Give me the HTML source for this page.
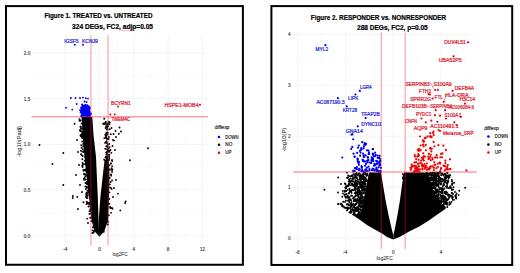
<!DOCTYPE html><html><head><meta charset="utf-8"><style>html,body{margin:0;padding:0;background:#fff;width:520px;height:273px;overflow:hidden}svg{display:block}text{font-family:"Liberation Sans", sans-serif}</style></head><body><svg width="520" height="273" viewBox="0 0 520 273"><rect x="0" y="0" width="520" height="273" fill="#fff"/><line x1="48.02" y1="35.3" x2="48.02" y2="245.6" stroke="#f8f8f8" stroke-width="0.6"/><line x1="82.34" y1="35.3" x2="82.34" y2="245.6" stroke="#f8f8f8" stroke-width="0.6"/><line x1="116.66" y1="35.3" x2="116.66" y2="245.6" stroke="#f8f8f8" stroke-width="0.6"/><line x1="150.98" y1="35.3" x2="150.98" y2="245.6" stroke="#f8f8f8" stroke-width="0.6"/><line x1="185.3" y1="35.3" x2="185.3" y2="245.6" stroke="#f8f8f8" stroke-width="0.6"/><line x1="32.1" y1="212.84" x2="207.9" y2="212.84" stroke="#f8f8f8" stroke-width="0.6"/><line x1="32.1" y1="167.11" x2="207.9" y2="167.11" stroke="#f8f8f8" stroke-width="0.6"/><line x1="32.1" y1="121.39" x2="207.9" y2="121.39" stroke="#f8f8f8" stroke-width="0.6"/><line x1="32.1" y1="75.66" x2="207.9" y2="75.66" stroke="#f8f8f8" stroke-width="0.6"/><line x1="65.18" y1="35.3" x2="65.18" y2="245.6" stroke="#f1f1f1" stroke-width="0.8"/><line x1="99.5" y1="35.3" x2="99.5" y2="245.6" stroke="#f1f1f1" stroke-width="0.8"/><line x1="133.82" y1="35.3" x2="133.82" y2="245.6" stroke="#f1f1f1" stroke-width="0.8"/><line x1="168.14" y1="35.3" x2="168.14" y2="245.6" stroke="#f1f1f1" stroke-width="0.8"/><line x1="202.46" y1="35.3" x2="202.46" y2="245.6" stroke="#f1f1f1" stroke-width="0.8"/><line x1="32.1" y1="235.7" x2="207.9" y2="235.7" stroke="#f1f1f1" stroke-width="0.8"/><line x1="32.1" y1="189.97" x2="207.9" y2="189.97" stroke="#f1f1f1" stroke-width="0.8"/><line x1="32.1" y1="144.25" x2="207.9" y2="144.25" stroke="#f1f1f1" stroke-width="0.8"/><line x1="32.1" y1="98.52" x2="207.9" y2="98.52" stroke="#f1f1f1" stroke-width="0.8"/><line x1="32.1" y1="52.8" x2="207.9" y2="52.8" stroke="#f1f1f1" stroke-width="0.8"/><line x1="321.5" y1="32.5" x2="321.5" y2="248.9" stroke="#f8f8f8" stroke-width="0.6"/><line x1="369.3" y1="32.5" x2="369.3" y2="248.9" stroke="#f8f8f8" stroke-width="0.6"/><line x1="417.1" y1="32.5" x2="417.1" y2="248.9" stroke="#f8f8f8" stroke-width="0.6"/><line x1="464.9" y1="32.5" x2="464.9" y2="248.9" stroke="#f8f8f8" stroke-width="0.6"/><line x1="294" y1="212.78" x2="478.7" y2="212.78" stroke="#f8f8f8" stroke-width="0.6"/><line x1="294" y1="161.73" x2="478.7" y2="161.73" stroke="#f8f8f8" stroke-width="0.6"/><line x1="294" y1="110.68" x2="478.7" y2="110.68" stroke="#f8f8f8" stroke-width="0.6"/><line x1="294" y1="59.63" x2="478.7" y2="59.63" stroke="#f8f8f8" stroke-width="0.6"/><line x1="297.6" y1="32.5" x2="297.6" y2="248.9" stroke="#f1f1f1" stroke-width="0.8"/><line x1="345.4" y1="32.5" x2="345.4" y2="248.9" stroke="#f1f1f1" stroke-width="0.8"/><line x1="393.2" y1="32.5" x2="393.2" y2="248.9" stroke="#f1f1f1" stroke-width="0.8"/><line x1="441" y1="32.5" x2="441" y2="248.9" stroke="#f1f1f1" stroke-width="0.8"/><line x1="294" y1="238.3" x2="478.7" y2="238.3" stroke="#f1f1f1" stroke-width="0.8"/><line x1="294" y1="187.25" x2="478.7" y2="187.25" stroke="#f1f1f1" stroke-width="0.8"/><line x1="294" y1="136.2" x2="478.7" y2="136.2" stroke="#f1f1f1" stroke-width="0.8"/><line x1="294" y1="85.15" x2="478.7" y2="85.15" stroke="#f1f1f1" stroke-width="0.8"/><line x1="294" y1="34.1" x2="478.7" y2="34.1" stroke="#f1f1f1" stroke-width="0.8"/><polygon fill="#000" points="81.8,117 92.3,117 93.5,135 96,157 97.8,197 98.6,222.4 99.3,236.8 94.8,231.5 92,222 90,205 87,180 84.5,157 82.5,135"/><polygon fill="#000" points="104.6,160 108.8,160 109.5,175 109,197 108.2,220 104.2,231.5 99.3,236.8 98.6,222.4 100.4,197 103.2,172"/><g fill="#000"><circle cx="83.24" cy="146.23" r="0.95"/><circle cx="85.23" cy="169.98" r="0.95"/><circle cx="82.01" cy="133.82" r="0.95"/><circle cx="79.62" cy="120.75" r="0.95"/><circle cx="87.96" cy="194.89" r="0.95"/><circle cx="86.58" cy="170.32" r="0.95"/><circle cx="84.06" cy="179.81" r="0.95"/><circle cx="84.43" cy="150.92" r="0.95"/><circle cx="87.47" cy="183.99" r="0.95"/><circle cx="82.35" cy="159.26" r="0.95"/><circle cx="85.55" cy="174.5" r="0.95"/><circle cx="86.27" cy="197.35" r="0.95"/><circle cx="81.78" cy="155.13" r="0.95"/><circle cx="86.22" cy="171.72" r="0.95"/><circle cx="88.47" cy="192.29" r="0.95"/><circle cx="85.71" cy="179.44" r="0.95"/><circle cx="85.52" cy="182.95" r="0.95"/><circle cx="81.57" cy="123.5" r="0.95"/><circle cx="89.7" cy="202.6" r="0.95"/><circle cx="90.23" cy="209.16" r="0.95"/><circle cx="79.42" cy="119.12" r="0.95"/><circle cx="82.48" cy="136.69" r="0.95"/><circle cx="90.22" cy="217.81" r="0.95"/><circle cx="83.45" cy="128.84" r="0.95"/><circle cx="87.03" cy="184.07" r="0.95"/><circle cx="87.85" cy="203.51" r="0.95"/><circle cx="91.14" cy="210.76" r="0.95"/><circle cx="82.54" cy="164.93" r="0.95"/><circle cx="84.2" cy="173.65" r="0.95"/><circle cx="82.46" cy="151.63" r="0.95"/><circle cx="80.84" cy="130.99" r="0.95"/><circle cx="82.77" cy="149.17" r="0.95"/><circle cx="89.87" cy="203.71" r="0.95"/><circle cx="86.26" cy="196.53" r="0.95"/><circle cx="89.48" cy="211.14" r="0.95"/><circle cx="88.02" cy="192.7" r="0.95"/><circle cx="89.63" cy="196.56" r="0.95"/><circle cx="85.23" cy="156.71" r="0.95"/><circle cx="86.67" cy="192.77" r="0.95"/><circle cx="90.63" cy="213.54" r="0.95"/><circle cx="88.98" cy="203.66" r="0.95"/><circle cx="80.73" cy="126.64" r="0.95"/><circle cx="80.63" cy="135.56" r="0.95"/><circle cx="80.75" cy="120.47" r="0.95"/><circle cx="80.72" cy="135.51" r="0.95"/><circle cx="86.23" cy="183" r="0.95"/><circle cx="80.91" cy="128.89" r="0.95"/><circle cx="86.09" cy="169.23" r="0.95"/><circle cx="82.31" cy="165.83" r="0.95"/><circle cx="89.65" cy="204.04" r="0.95"/><circle cx="88.91" cy="206.22" r="0.95"/><circle cx="85.07" cy="160.58" r="0.95"/><circle cx="86.72" cy="197.76" r="0.95"/><circle cx="86.33" cy="193.74" r="0.95"/><circle cx="86.88" cy="175.6" r="0.95"/><circle cx="82.11" cy="137.53" r="0.95"/><circle cx="86.75" cy="201.74" r="0.95"/><circle cx="87.69" cy="202.99" r="0.95"/><circle cx="86.81" cy="186.8" r="0.95"/><circle cx="81.57" cy="147.73" r="0.95"/><circle cx="83.94" cy="163.97" r="0.95"/><circle cx="85.91" cy="188.98" r="0.95"/><circle cx="84.23" cy="174.32" r="0.95"/><circle cx="89.26" cy="202.83" r="0.95"/><circle cx="82.61" cy="167.04" r="0.95"/><circle cx="83.28" cy="143.91" r="0.95"/><circle cx="80.92" cy="150.75" r="0.95"/><circle cx="88.19" cy="182.2" r="0.95"/><circle cx="82.6" cy="162.95" r="0.95"/><circle cx="80.93" cy="135.24" r="0.95"/><circle cx="81.57" cy="134.33" r="0.95"/><circle cx="81.28" cy="145.31" r="0.95"/><circle cx="84.69" cy="160.85" r="0.95"/><circle cx="87.4" cy="198.08" r="0.95"/><circle cx="91.81" cy="220.93" r="0.95"/><circle cx="88.32" cy="188.23" r="0.95"/><circle cx="83.7" cy="170.85" r="0.95"/><circle cx="89.14" cy="189.86" r="0.95"/><circle cx="80.85" cy="136.35" r="0.95"/><circle cx="88.53" cy="206.62" r="0.95"/><circle cx="82.44" cy="131.96" r="0.95"/><circle cx="89.15" cy="190.33" r="0.95"/><circle cx="83.28" cy="125.09" r="0.95"/><circle cx="82.8" cy="135.16" r="0.95"/><circle cx="89.34" cy="213.87" r="0.95"/><circle cx="80.05" cy="130.11" r="0.95"/><circle cx="91.11" cy="208.04" r="0.95"/><circle cx="85.57" cy="164.58" r="0.95"/><circle cx="87" cy="195.99" r="0.95"/><circle cx="87.67" cy="202.78" r="0.95"/><circle cx="86.63" cy="194.04" r="0.95"/><circle cx="82.78" cy="156.09" r="0.95"/><circle cx="82.49" cy="135.24" r="0.95"/><circle cx="83.65" cy="137.21" r="0.95"/><circle cx="86.34" cy="195.28" r="0.95"/><circle cx="80.98" cy="154.13" r="0.95"/><circle cx="85.38" cy="186.48" r="0.95"/><circle cx="81.32" cy="131.61" r="0.95"/><circle cx="83.99" cy="178.62" r="0.95"/><circle cx="80.44" cy="126.73" r="0.95"/><circle cx="85.42" cy="176.22" r="0.95"/><circle cx="91.48" cy="221.16" r="0.95"/><circle cx="85.6" cy="164.06" r="0.95"/><circle cx="86.9" cy="187.55" r="0.95"/><circle cx="82.22" cy="141.55" r="0.95"/><circle cx="84.24" cy="150.93" r="0.95"/><circle cx="81.61" cy="128.17" r="0.95"/><circle cx="84.66" cy="177.69" r="0.95"/><circle cx="82.55" cy="138.03" r="0.95"/><circle cx="87.42" cy="190.75" r="0.95"/><circle cx="83.7" cy="151.96" r="0.95"/><circle cx="86.66" cy="181.88" r="0.95"/><circle cx="79.94" cy="130.55" r="0.95"/><circle cx="83.36" cy="170.04" r="0.95"/><circle cx="91.16" cy="211.15" r="0.95"/><circle cx="86.16" cy="169.93" r="0.95"/><circle cx="92.32" cy="216.62" r="0.95"/><circle cx="82.54" cy="118.93" r="0.95"/><circle cx="84.34" cy="169.89" r="0.95"/><circle cx="91.69" cy="217.81" r="0.95"/><circle cx="110.09" cy="207" r="0.95"/><circle cx="109.3" cy="203.78" r="0.95"/><circle cx="109.29" cy="199.04" r="0.95"/><circle cx="109.5" cy="192.35" r="0.95"/><circle cx="112.17" cy="161.1" r="0.95"/><circle cx="111.63" cy="188.89" r="0.95"/><circle cx="109.71" cy="177.97" r="0.95"/><circle cx="108.31" cy="172.73" r="0.95"/><circle cx="110.8" cy="163.56" r="0.95"/><circle cx="111.01" cy="212.85" r="0.95"/><circle cx="112.41" cy="208.69" r="0.95"/><circle cx="111.63" cy="168.14" r="0.95"/><circle cx="112.37" cy="169.56" r="0.95"/><circle cx="111.91" cy="208.04" r="0.95"/><circle cx="110.8" cy="187.71" r="0.95"/><circle cx="108.9" cy="187.61" r="0.95"/><circle cx="109.31" cy="165.18" r="0.95"/><circle cx="108.58" cy="203.67" r="0.95"/><circle cx="112.15" cy="166.09" r="0.95"/><circle cx="108.06" cy="173.03" r="0.95"/><circle cx="108.6" cy="168.75" r="0.95"/><circle cx="110.62" cy="182.07" r="0.95"/><circle cx="109.93" cy="169.72" r="0.95"/><circle cx="110.99" cy="174.5" r="0.95"/><circle cx="109.8" cy="184.41" r="0.95"/><circle cx="112.07" cy="172.04" r="0.95"/><circle cx="111.23" cy="175.63" r="0.95"/><circle cx="112.02" cy="180.46" r="0.95"/><circle cx="110.27" cy="208" r="0.95"/><circle cx="111.03" cy="163.38" r="0.95"/><circle cx="103.82" cy="231.84" r="0.95"/><circle cx="103.17" cy="220.11" r="0.95"/><circle cx="108.75" cy="215.26" r="0.95"/><circle cx="103.97" cy="218.63" r="0.95"/><circle cx="103.52" cy="223.02" r="0.95"/><circle cx="106.55" cy="220.41" r="0.95"/><circle cx="103.65" cy="228.79" r="0.95"/><circle cx="107.83" cy="224.56" r="0.95"/><circle cx="103.83" cy="224.21" r="0.95"/><circle cx="106.78" cy="222.28" r="0.95"/><circle cx="108.18" cy="221.63" r="0.95"/><circle cx="106.07" cy="216.94" r="0.95"/><circle cx="93.82" cy="231.2" r="0.95"/><circle cx="94.66" cy="225.08" r="0.95"/><circle cx="95.96" cy="230.64" r="0.95"/><circle cx="93.12" cy="226.98" r="0.95"/><circle cx="94.9" cy="224.11" r="0.95"/><circle cx="94.2" cy="230.63" r="0.95"/><circle cx="93.58" cy="232.48" r="0.95"/><circle cx="93.34" cy="227.58" r="0.95"/><circle cx="92.42" cy="233.03" r="0.95"/><circle cx="92.58" cy="230.34" r="0.95"/><circle cx="108.51" cy="139.04" r="0.95"/><circle cx="107.19" cy="159.2" r="0.95"/><circle cx="105.47" cy="160.81" r="0.95"/><circle cx="103.4" cy="123.35" r="0.95"/><circle cx="105.76" cy="121.88" r="0.95"/><circle cx="109.71" cy="129.17" r="0.95"/><circle cx="105.34" cy="134.62" r="0.95"/><circle cx="109.36" cy="154.77" r="0.95"/><circle cx="105.66" cy="135.66" r="0.95"/><circle cx="104.22" cy="118.71" r="0.95"/><circle cx="104.15" cy="159.64" r="0.95"/><circle cx="107.27" cy="156.46" r="0.95"/><circle cx="107.3" cy="134.14" r="0.95"/><circle cx="106.72" cy="133.94" r="0.95"/><circle cx="103.55" cy="123.86" r="0.95"/><circle cx="106.48" cy="152.16" r="0.95"/><circle cx="107.19" cy="127.3" r="0.95"/><circle cx="106.09" cy="134.28" r="0.95"/><circle cx="108.07" cy="151.93" r="0.95"/><circle cx="109.78" cy="122.47" r="0.95"/><circle cx="105.59" cy="160.44" r="0.95"/><circle cx="111.34" cy="152.87" r="0.95"/><circle cx="105.9" cy="156.59" r="0.95"/><circle cx="107.38" cy="157.11" r="0.95"/><circle cx="107.35" cy="156.44" r="0.95"/><circle cx="108.64" cy="150.9" r="0.95"/><circle cx="106.35" cy="132.9" r="0.95"/><circle cx="107.31" cy="146.24" r="0.95"/><circle cx="107.46" cy="158.62" r="0.95"/><circle cx="107.47" cy="129.55" r="0.95"/><circle cx="108.16" cy="154.62" r="0.95"/><circle cx="107.11" cy="143.17" r="0.95"/><circle cx="108.59" cy="148.65" r="0.95"/><circle cx="108.78" cy="124.1" r="0.95"/><circle cx="106.56" cy="156.83" r="0.95"/><circle cx="105.7" cy="122.12" r="0.95"/><circle cx="106.08" cy="138.02" r="0.95"/><circle cx="106.21" cy="146.08" r="0.95"/><circle cx="106.01" cy="136.06" r="0.95"/><circle cx="107.35" cy="147.09" r="0.95"/><circle cx="108.48" cy="150.55" r="0.95"/><circle cx="106.48" cy="154.49" r="0.95"/><circle cx="108.24" cy="159.74" r="0.95"/><circle cx="106.07" cy="126.27" r="0.95"/><circle cx="110.73" cy="134.29" r="0.95"/><circle cx="107.62" cy="146.93" r="0.95"/><circle cx="107.7" cy="124.1" r="0.95"/><circle cx="105.15" cy="122.88" r="0.95"/><circle cx="106.26" cy="156.71" r="0.95"/><circle cx="106.98" cy="126.3" r="0.95"/><circle cx="105.99" cy="141.9" r="0.95"/><circle cx="106.94" cy="138.98" r="0.95"/><circle cx="109.29" cy="158.06" r="0.95"/><circle cx="105.65" cy="127.98" r="0.95"/><circle cx="105.89" cy="142.38" r="0.95"/><circle cx="106.84" cy="124.09" r="0.95"/><circle cx="107.16" cy="158.03" r="0.95"/><circle cx="107.77" cy="132.71" r="0.95"/><circle cx="106.71" cy="135.29" r="0.95"/><circle cx="105.04" cy="123.97" r="0.95"/><circle cx="103.48" cy="123.92" r="0.95"/><circle cx="107.38" cy="134.11" r="0.95"/><circle cx="106.48" cy="157.3" r="0.95"/><circle cx="107" cy="132.46" r="0.95"/><circle cx="104.35" cy="138.15" r="0.95"/><circle cx="106.28" cy="152.66" r="0.95"/><circle cx="107.85" cy="150.42" r="0.95"/><circle cx="109.11" cy="159.89" r="0.95"/><circle cx="109.05" cy="156.22" r="0.95"/><circle cx="108.83" cy="136.92" r="0.95"/><circle cx="107.31" cy="151.34" r="0.95"/><circle cx="108.4" cy="138" r="0.95"/><circle cx="107.67" cy="145.03" r="0.95"/><circle cx="107.2" cy="159.2" r="0.95"/><circle cx="106.93" cy="160.98" r="0.95"/><circle cx="105.8" cy="137.15" r="0.95"/><circle cx="108.16" cy="126.23" r="0.95"/><circle cx="106.79" cy="129.19" r="0.95"/><circle cx="106.45" cy="157.18" r="0.95"/><circle cx="107.1" cy="149.28" r="0.95"/><circle cx="109.41" cy="124.37" r="0.95"/><circle cx="105.05" cy="142.87" r="0.95"/><circle cx="105.27" cy="148.74" r="0.95"/><circle cx="108.66" cy="121.69" r="0.95"/><circle cx="105.42" cy="157.44" r="0.95"/><circle cx="109.22" cy="144" r="0.95"/><circle cx="106.73" cy="158.9" r="0.95"/><circle cx="107.61" cy="139.07" r="0.95"/><circle cx="109.29" cy="151.01" r="0.95"/><circle cx="109.32" cy="151.66" r="0.95"/><circle cx="107.74" cy="123.43" r="0.95"/><circle cx="107.58" cy="160.05" r="0.95"/><circle cx="107" cy="153.06" r="0.95"/><circle cx="106.7" cy="141.1" r="0.95"/><circle cx="109.58" cy="147.12" r="0.95"/><circle cx="39.5" cy="145" r="0.95"/><circle cx="63.3" cy="153" r="0.95"/><circle cx="52.4" cy="164" r="0.95"/><circle cx="148" cy="148.3" r="0.95"/><circle cx="130" cy="160.2" r="0.95"/><circle cx="63.3" cy="185" r="0.95"/><circle cx="72.9" cy="196" r="0.95"/><circle cx="125.2" cy="203" r="0.95"/><circle cx="118" cy="193.6" r="0.95"/><circle cx="74.6" cy="123.7" r="0.95"/><circle cx="72.7" cy="198" r="0.95"/><circle cx="77.3" cy="197" r="0.95"/><circle cx="83.5" cy="202.3" r="0.95"/><circle cx="86.5" cy="204" r="0.95"/><circle cx="78" cy="209" r="0.95"/><circle cx="87.3" cy="218.6" r="0.95"/><circle cx="88" cy="223" r="0.95"/><circle cx="113" cy="197" r="0.95"/><circle cx="125.6" cy="201.4" r="0.95"/><circle cx="120.3" cy="210.4" r="0.95"/><circle cx="115" cy="150" r="0.95"/><circle cx="113" cy="140" r="0.95"/><circle cx="112" cy="170" r="0.95"/><circle cx="116" cy="180" r="0.95"/><circle cx="76" cy="175" r="0.95"/><circle cx="79" cy="165" r="0.95"/><circle cx="111.5" cy="128" r="0.95"/><circle cx="113.5" cy="134" r="0.95"/><circle cx="118.8" cy="133.7" r="0.95"/><circle cx="121" cy="131.5" r="0.95"/><circle cx="114" cy="140.6" r="0.95"/><circle cx="116" cy="137" r="0.95"/><circle cx="112.5" cy="146" r="0.95"/><circle cx="110.5" cy="150" r="0.95"/><circle cx="119.5" cy="127.5" r="0.95"/><circle cx="115.5" cy="131" r="0.95"/><circle cx="77" cy="140" r="0.95"/><circle cx="78" cy="152" r="0.95"/><circle cx="80" cy="185" r="0.95"/><circle cx="82" cy="192" r="0.95"/><circle cx="112" cy="160" r="0.95"/><circle cx="114" cy="188" r="0.95"/></g><g fill="#0000f0"><circle cx="87.64" cy="108.61" r="0.95"/><circle cx="87.95" cy="109.64" r="0.95"/><circle cx="84.51" cy="108.25" r="0.95"/><circle cx="85.42" cy="107.08" r="0.95"/><circle cx="82.56" cy="105.25" r="0.95"/><circle cx="84.82" cy="107.25" r="0.95"/><circle cx="89.34" cy="114.9" r="0.95"/><circle cx="83.72" cy="111.74" r="0.95"/><circle cx="86.12" cy="109.32" r="0.95"/><circle cx="87.21" cy="116.44" r="0.95"/><circle cx="81.38" cy="116.52" r="0.95"/><circle cx="87.39" cy="114.18" r="0.95"/><circle cx="87.04" cy="115.21" r="0.95"/><circle cx="83.52" cy="112.97" r="0.95"/><circle cx="82.81" cy="110.22" r="0.95"/><circle cx="87.57" cy="105.98" r="0.95"/><circle cx="89.02" cy="112.39" r="0.95"/><circle cx="83.46" cy="112.28" r="0.95"/><circle cx="80.76" cy="112.34" r="0.95"/><circle cx="86.37" cy="111.72" r="0.95"/><circle cx="84.9" cy="106.31" r="0.95"/><circle cx="88.07" cy="109.6" r="0.95"/><circle cx="88.3" cy="108.23" r="0.95"/><circle cx="80.8" cy="110.69" r="0.95"/><circle cx="86.9" cy="115.92" r="0.95"/><circle cx="88.6" cy="106.81" r="0.95"/><circle cx="87.75" cy="108.44" r="0.95"/><circle cx="83.47" cy="109.94" r="0.95"/><circle cx="85.85" cy="112.78" r="0.95"/><circle cx="87.07" cy="112.56" r="0.95"/><circle cx="84.18" cy="112.55" r="0.95"/><circle cx="83.74" cy="111.58" r="0.95"/><circle cx="85.04" cy="110.97" r="0.95"/><circle cx="80" cy="110.08" r="0.95"/><circle cx="82.31" cy="108.52" r="0.95"/><circle cx="80.64" cy="112.27" r="0.95"/><circle cx="89.99" cy="108.09" r="0.95"/><circle cx="81" cy="111.76" r="0.95"/><circle cx="81.25" cy="115.5" r="0.95"/><circle cx="81.2" cy="108.19" r="0.95"/><circle cx="85.44" cy="104.83" r="0.95"/><circle cx="83.43" cy="107" r="0.95"/><circle cx="87.93" cy="116.81" r="0.95"/><circle cx="83.94" cy="114.11" r="0.95"/><circle cx="81.4" cy="111.2" r="0.95"/><circle cx="84.73" cy="107.18" r="0.95"/><circle cx="89.17" cy="113.5" r="0.95"/><circle cx="81.33" cy="107.24" r="0.95"/><circle cx="89.14" cy="116.9" r="0.95"/><circle cx="86.77" cy="115.23" r="0.95"/><circle cx="91.02" cy="113.42" r="0.95"/><circle cx="87.15" cy="106.25" r="0.95"/><circle cx="84.02" cy="111.81" r="0.95"/><circle cx="87.74" cy="109.32" r="0.95"/><circle cx="88.89" cy="106.42" r="0.95"/><circle cx="87.32" cy="112.49" r="0.95"/><circle cx="85.09" cy="105.8" r="0.95"/><circle cx="84.39" cy="113.48" r="0.95"/><circle cx="81.96" cy="104.44" r="0.95"/><circle cx="85.08" cy="106.44" r="0.95"/><circle cx="88.93" cy="114.48" r="0.95"/><circle cx="90.58" cy="114.79" r="0.95"/><circle cx="87.18" cy="105.78" r="0.95"/><circle cx="89.18" cy="113.25" r="0.95"/><circle cx="88.31" cy="112.82" r="0.95"/><circle cx="89.26" cy="107.31" r="0.95"/><circle cx="87.47" cy="110.34" r="0.95"/><circle cx="83.65" cy="107.71" r="0.95"/><circle cx="81.57" cy="109.98" r="0.95"/><circle cx="84" cy="109.02" r="0.95"/><circle cx="70.8" cy="98" r="0.95"/><circle cx="75.5" cy="98" r="0.95"/><circle cx="80" cy="98" r="0.95"/><circle cx="82.9" cy="97.6" r="0.95"/><circle cx="85.8" cy="98.3" r="0.95"/><circle cx="88" cy="98.6" r="0.95"/><circle cx="66" cy="107.7" r="0.95"/><circle cx="72.3" cy="109.6" r="0.95"/><circle cx="76.7" cy="104" r="0.95"/><circle cx="74.8" cy="44.8" r="0.95"/><circle cx="83" cy="44.8" r="0.95"/><circle cx="84.5" cy="101.5" r="0.95"/><circle cx="86.5" cy="102" r="0.95"/></g><polygon fill="#0000f0" points="82.5,105 87.5,104.2 89.5,107 90.6,112 90.8,116.8 81.6,116.8 80.5,110"/><g fill="#f00000"><circle cx="118" cy="106.4" r="1"/><circle cx="200" cy="104.8" r="1"/><circle cx="110.3" cy="114.6" r="1"/><circle cx="114.7" cy="114.4" r="1"/></g><polygon fill="#000" points="369,172.5 381,172.5 383,185 385.5,200 388.5,215 391.5,228 393.3,235.5 393.3,239.4 387,237 382,233.6 376.6,230.6 367.4,225.2 358.3,218.8 349.1,212.4 354,215.6 361,212 364,198 366.5,185"/><polygon fill="#000" points="404,172.5 428,172.5 431,185 436,197 442,205 445.7,208.7 436.6,215.1 427.4,221.5 418.3,227 409.1,231.6 400,236.7 393.3,239.4 393.3,235.5 395,228 397.5,215 400,200 402,185"/><g fill="#000"><circle cx="347.66" cy="195.61" r="0.95"/><circle cx="355.23" cy="208.79" r="0.95"/><circle cx="351.19" cy="195.51" r="0.95"/><circle cx="353.12" cy="181.47" r="0.95"/><circle cx="345.8" cy="197.69" r="0.95"/><circle cx="350.78" cy="181.13" r="0.95"/><circle cx="358.96" cy="193.48" r="0.95"/><circle cx="360.59" cy="184.18" r="0.95"/><circle cx="354.7" cy="196.87" r="0.95"/><circle cx="362.74" cy="175.64" r="0.95"/><circle cx="348.09" cy="177.16" r="0.95"/><circle cx="360.17" cy="186.86" r="0.95"/><circle cx="353.46" cy="185.85" r="0.95"/><circle cx="362.05" cy="175.94" r="0.95"/><circle cx="360.85" cy="177.29" r="0.95"/><circle cx="357.47" cy="188.37" r="0.95"/><circle cx="358.47" cy="211.82" r="0.95"/><circle cx="346.96" cy="172.63" r="0.95"/><circle cx="359.88" cy="193.05" r="0.95"/><circle cx="360.65" cy="196.83" r="0.95"/><circle cx="348.15" cy="175.37" r="0.95"/><circle cx="351.43" cy="209.67" r="0.95"/><circle cx="355.88" cy="192.47" r="0.95"/><circle cx="363.43" cy="187.14" r="0.95"/><circle cx="365.08" cy="186.09" r="0.95"/><circle cx="363.9" cy="193.48" r="0.95"/><circle cx="363.62" cy="178.92" r="0.95"/><circle cx="360.97" cy="203.31" r="0.95"/><circle cx="349.18" cy="176.11" r="0.95"/><circle cx="350.4" cy="205.44" r="0.95"/><circle cx="361.78" cy="195.84" r="0.95"/><circle cx="347.61" cy="189.76" r="0.95"/><circle cx="349.46" cy="189.99" r="0.95"/><circle cx="359.39" cy="205.31" r="0.95"/><circle cx="360.18" cy="184.08" r="0.95"/><circle cx="345.12" cy="190.56" r="0.95"/><circle cx="348.96" cy="193.52" r="0.95"/><circle cx="355.81" cy="203.73" r="0.95"/><circle cx="360.38" cy="205.93" r="0.95"/><circle cx="357" cy="184.89" r="0.95"/><circle cx="355.46" cy="196.06" r="0.95"/><circle cx="353.37" cy="174.26" r="0.95"/><circle cx="349.64" cy="196.96" r="0.95"/><circle cx="366.33" cy="180.98" r="0.95"/><circle cx="362.33" cy="207.07" r="0.95"/><circle cx="355.38" cy="204.48" r="0.95"/><circle cx="353.68" cy="210.75" r="0.95"/><circle cx="347.11" cy="204.54" r="0.95"/><circle cx="364.92" cy="181.66" r="0.95"/><circle cx="363.81" cy="184.1" r="0.95"/><circle cx="357.24" cy="195.21" r="0.95"/><circle cx="362.31" cy="193.57" r="0.95"/><circle cx="354.67" cy="193.18" r="0.95"/><circle cx="346.18" cy="185.94" r="0.95"/><circle cx="348.45" cy="208.12" r="0.95"/><circle cx="347.34" cy="196.45" r="0.95"/><circle cx="364.17" cy="192.06" r="0.95"/><circle cx="359.21" cy="199.33" r="0.95"/><circle cx="363.52" cy="183.12" r="0.95"/><circle cx="362.72" cy="187.35" r="0.95"/><circle cx="359.28" cy="183.06" r="0.95"/><circle cx="350.89" cy="181.43" r="0.95"/><circle cx="363.35" cy="176.86" r="0.95"/><circle cx="363.7" cy="179.01" r="0.95"/><circle cx="356.44" cy="204.06" r="0.95"/><circle cx="351.99" cy="183.46" r="0.95"/><circle cx="365.07" cy="188.88" r="0.95"/><circle cx="354.75" cy="185.28" r="0.95"/><circle cx="357.05" cy="215.5" r="0.95"/><circle cx="363.03" cy="177.69" r="0.95"/><circle cx="355.56" cy="182.24" r="0.95"/><circle cx="354.19" cy="213.29" r="0.95"/><circle cx="361.5" cy="201.61" r="0.95"/><circle cx="355.83" cy="200.07" r="0.95"/><circle cx="367.13" cy="174.21" r="0.95"/><circle cx="351.23" cy="191.16" r="0.95"/><circle cx="353.1" cy="198.35" r="0.95"/><circle cx="351.37" cy="206.78" r="0.95"/><circle cx="357.51" cy="191.73" r="0.95"/><circle cx="365.33" cy="184.67" r="0.95"/><circle cx="363.21" cy="201.19" r="0.95"/><circle cx="357.66" cy="190.16" r="0.95"/><circle cx="361.55" cy="185.98" r="0.95"/><circle cx="363.44" cy="174.1" r="0.95"/><circle cx="354.7" cy="211.24" r="0.95"/><circle cx="363.4" cy="183.63" r="0.95"/><circle cx="364.87" cy="183.88" r="0.95"/><circle cx="365.82" cy="178.31" r="0.95"/><circle cx="361.87" cy="186.4" r="0.95"/><circle cx="361.28" cy="179.11" r="0.95"/><circle cx="351.55" cy="192.76" r="0.95"/><circle cx="354.9" cy="183.01" r="0.95"/><circle cx="351.9" cy="175.41" r="0.95"/><circle cx="362.77" cy="185.44" r="0.95"/><circle cx="355.18" cy="208.32" r="0.95"/><circle cx="363.61" cy="173.34" r="0.95"/><circle cx="360.95" cy="198.16" r="0.95"/><circle cx="360.03" cy="201" r="0.95"/><circle cx="358.5" cy="208.77" r="0.95"/><circle cx="356.23" cy="209.72" r="0.95"/><circle cx="359.54" cy="179.67" r="0.95"/><circle cx="351.27" cy="175.94" r="0.95"/><circle cx="355.25" cy="182.06" r="0.95"/><circle cx="352.46" cy="208.44" r="0.95"/><circle cx="356.54" cy="188.88" r="0.95"/><circle cx="359.35" cy="173.37" r="0.95"/><circle cx="361.11" cy="203.13" r="0.95"/><circle cx="364.39" cy="182.06" r="0.95"/><circle cx="344.99" cy="201.88" r="0.95"/><circle cx="359.21" cy="205.89" r="0.95"/><circle cx="347.14" cy="204.28" r="0.95"/><circle cx="349.02" cy="192.89" r="0.95"/><circle cx="351.64" cy="190.24" r="0.95"/><circle cx="360.87" cy="210.03" r="0.95"/><circle cx="344.78" cy="194.34" r="0.95"/><circle cx="359.98" cy="178.24" r="0.95"/><circle cx="359.92" cy="187.76" r="0.95"/><circle cx="355.05" cy="175.5" r="0.95"/><circle cx="359.2" cy="182.34" r="0.95"/><circle cx="361.5" cy="192.71" r="0.95"/><circle cx="354.1" cy="211.77" r="0.95"/><circle cx="358.43" cy="189.53" r="0.95"/><circle cx="358.29" cy="194.57" r="0.95"/><circle cx="348.72" cy="204.17" r="0.95"/><circle cx="360.68" cy="206" r="0.95"/><circle cx="363.62" cy="197.25" r="0.95"/><circle cx="362.81" cy="178.98" r="0.95"/><circle cx="356.95" cy="207.21" r="0.95"/><circle cx="354.62" cy="189" r="0.95"/><circle cx="355.95" cy="195.56" r="0.95"/><circle cx="346.17" cy="207.63" r="0.95"/><circle cx="349.27" cy="183.52" r="0.95"/><circle cx="350.44" cy="207.72" r="0.95"/><circle cx="354.55" cy="199.93" r="0.95"/><circle cx="364.81" cy="190.31" r="0.95"/><circle cx="355.3" cy="182.75" r="0.95"/><circle cx="360.1" cy="194.44" r="0.95"/><circle cx="348.44" cy="186.01" r="0.95"/><circle cx="362.51" cy="190.91" r="0.95"/><circle cx="358.77" cy="213.22" r="0.95"/><circle cx="355.79" cy="177.53" r="0.95"/><circle cx="361.87" cy="175.51" r="0.95"/><circle cx="361.37" cy="206.54" r="0.95"/><circle cx="362.09" cy="200.34" r="0.95"/><circle cx="342.24" cy="196.77" r="0.95"/><circle cx="361.46" cy="188" r="0.95"/><circle cx="344.48" cy="194.98" r="0.95"/><circle cx="362.29" cy="197.98" r="0.95"/><circle cx="350.74" cy="211.42" r="0.95"/><circle cx="361.1" cy="185.76" r="0.95"/><circle cx="358.54" cy="174.59" r="0.95"/><circle cx="354.96" cy="187.45" r="0.95"/><circle cx="358.29" cy="191.35" r="0.95"/><circle cx="361.79" cy="196.75" r="0.95"/><circle cx="345.94" cy="200.56" r="0.95"/><circle cx="352.11" cy="183.98" r="0.95"/><circle cx="364.71" cy="173.64" r="0.95"/><circle cx="361.77" cy="182.66" r="0.95"/><circle cx="353.67" cy="178.7" r="0.95"/><circle cx="360.72" cy="185.94" r="0.95"/><circle cx="359.76" cy="206.53" r="0.95"/><circle cx="359.01" cy="190.24" r="0.95"/><circle cx="354.01" cy="185.17" r="0.95"/><circle cx="361.93" cy="204.17" r="0.95"/><circle cx="352.17" cy="185.52" r="0.95"/><circle cx="351.55" cy="212.29" r="0.95"/><circle cx="353.65" cy="198.27" r="0.95"/><circle cx="348.95" cy="184.63" r="0.95"/><circle cx="356.29" cy="203.36" r="0.95"/><circle cx="362.95" cy="182.38" r="0.95"/><circle cx="363" cy="189.79" r="0.95"/><circle cx="354.46" cy="184.75" r="0.95"/><circle cx="362.33" cy="187.87" r="0.95"/><circle cx="362.97" cy="202.82" r="0.95"/><circle cx="357.75" cy="191.57" r="0.95"/><circle cx="354.73" cy="182.62" r="0.95"/><circle cx="355.2" cy="173.92" r="0.95"/><circle cx="357.98" cy="202.71" r="0.95"/><circle cx="366.6" cy="180.74" r="0.95"/><circle cx="357.8" cy="209.67" r="0.95"/><circle cx="365.53" cy="183.57" r="0.95"/><circle cx="359.44" cy="182.31" r="0.95"/><circle cx="358.42" cy="206.92" r="0.95"/><circle cx="358.33" cy="214.03" r="0.95"/><circle cx="358.35" cy="192.04" r="0.95"/><circle cx="356.04" cy="184.33" r="0.95"/><circle cx="347.09" cy="210.44" r="0.95"/><circle cx="347.95" cy="200.81" r="0.95"/><circle cx="363.24" cy="181.64" r="0.95"/><circle cx="358.1" cy="201.2" r="0.95"/><circle cx="356.55" cy="180.62" r="0.95"/><circle cx="354.79" cy="177.32" r="0.95"/><circle cx="359.1" cy="189.75" r="0.95"/><circle cx="352.46" cy="181.24" r="0.95"/><circle cx="366.8" cy="175.54" r="0.95"/><circle cx="366.64" cy="180.91" r="0.95"/><circle cx="355.22" cy="215.1" r="0.95"/><circle cx="354.14" cy="212.82" r="0.95"/><circle cx="357.75" cy="208.05" r="0.95"/><circle cx="357.96" cy="201.74" r="0.95"/><circle cx="354.8" cy="182.63" r="0.95"/><circle cx="353.63" cy="197.45" r="0.95"/><circle cx="367.01" cy="173.75" r="0.95"/><circle cx="354.39" cy="204.66" r="0.95"/><circle cx="350.54" cy="176.41" r="0.95"/><circle cx="364.92" cy="186.77" r="0.95"/><circle cx="357.51" cy="210.94" r="0.95"/><circle cx="345.94" cy="190.96" r="0.95"/><circle cx="357.23" cy="178.14" r="0.95"/><circle cx="360.33" cy="175.96" r="0.95"/><circle cx="359.06" cy="203.11" r="0.95"/><circle cx="360.72" cy="202.66" r="0.95"/><circle cx="361.28" cy="176.21" r="0.95"/><circle cx="361.28" cy="181.26" r="0.95"/><circle cx="359.18" cy="192.76" r="0.95"/><circle cx="362.93" cy="202.39" r="0.95"/><circle cx="360.46" cy="210.83" r="0.95"/><circle cx="354.33" cy="200.05" r="0.95"/><circle cx="352.7" cy="210.46" r="0.95"/><circle cx="350.78" cy="185.12" r="0.95"/><circle cx="366.23" cy="175.86" r="0.95"/><circle cx="349.9" cy="181.52" r="0.95"/><circle cx="356.76" cy="183.22" r="0.95"/><circle cx="359.02" cy="201.13" r="0.95"/><circle cx="356" cy="210.72" r="0.95"/><circle cx="354.78" cy="205.53" r="0.95"/><circle cx="350.38" cy="212.23" r="0.95"/><circle cx="354.55" cy="175.09" r="0.95"/><circle cx="358.19" cy="191.13" r="0.95"/><circle cx="357.27" cy="215.97" r="0.95"/><circle cx="355.39" cy="190.54" r="0.95"/><circle cx="348.98" cy="184.82" r="0.95"/><circle cx="350.83" cy="212.65" r="0.95"/><circle cx="359.18" cy="209.13" r="0.95"/><circle cx="353.6" cy="201.22" r="0.95"/><circle cx="355.83" cy="176.82" r="0.95"/><circle cx="356.61" cy="200.78" r="0.95"/><circle cx="364.35" cy="177.27" r="0.95"/><circle cx="362.32" cy="185.89" r="0.95"/><circle cx="352.41" cy="175.69" r="0.95"/><circle cx="356.55" cy="174.78" r="0.95"/><circle cx="357.88" cy="181.57" r="0.95"/><circle cx="358.2" cy="195" r="0.95"/><circle cx="356.54" cy="201.34" r="0.95"/><circle cx="360.07" cy="209.41" r="0.95"/><circle cx="349.62" cy="208.38" r="0.95"/><circle cx="363.75" cy="197.36" r="0.95"/><circle cx="359.7" cy="190.93" r="0.95"/><circle cx="361.96" cy="176.86" r="0.95"/><circle cx="359.44" cy="192.31" r="0.95"/><circle cx="352.34" cy="179.01" r="0.95"/><circle cx="353.41" cy="210.04" r="0.95"/><circle cx="359.55" cy="199.3" r="0.95"/><circle cx="357.63" cy="193.66" r="0.95"/><circle cx="362.02" cy="197.65" r="0.95"/><circle cx="358.95" cy="197.8" r="0.95"/><circle cx="363.45" cy="172.81" r="0.95"/><circle cx="355.53" cy="186.02" r="0.95"/><circle cx="359.62" cy="177" r="0.95"/><circle cx="363.18" cy="174.61" r="0.95"/><circle cx="365.21" cy="172.87" r="0.95"/><circle cx="345.16" cy="196.59" r="0.95"/><circle cx="365.06" cy="180.86" r="0.95"/><circle cx="358.99" cy="187.1" r="0.95"/><circle cx="365.8" cy="174.31" r="0.95"/><circle cx="350.49" cy="199.08" r="0.95"/><circle cx="360.32" cy="194.78" r="0.95"/><circle cx="357.48" cy="199.02" r="0.95"/><circle cx="357.51" cy="183.47" r="0.95"/><circle cx="358.58" cy="205.49" r="0.95"/><circle cx="349.91" cy="212.42" r="0.95"/><circle cx="352.14" cy="195.92" r="0.95"/><circle cx="362.39" cy="177.46" r="0.95"/><circle cx="362.29" cy="187.89" r="0.95"/><circle cx="360.68" cy="174.4" r="0.95"/><circle cx="361.93" cy="196.46" r="0.95"/><circle cx="356.2" cy="211" r="0.95"/><circle cx="357.46" cy="215.65" r="0.95"/><circle cx="362.73" cy="184.02" r="0.95"/><circle cx="358.38" cy="186.83" r="0.95"/><circle cx="363.76" cy="179.99" r="0.95"/><circle cx="351.17" cy="205.56" r="0.95"/><circle cx="361.69" cy="206.68" r="0.95"/><circle cx="365.67" cy="186.6" r="0.95"/><circle cx="353.28" cy="205.82" r="0.95"/><circle cx="356.09" cy="186.46" r="0.95"/><circle cx="357.43" cy="184.59" r="0.95"/><circle cx="364.85" cy="188.96" r="0.95"/><circle cx="358.39" cy="197" r="0.95"/><circle cx="351.07" cy="200.31" r="0.95"/><circle cx="355.11" cy="214.16" r="0.95"/><circle cx="355.23" cy="180.24" r="0.95"/><circle cx="360.99" cy="199.96" r="0.95"/><circle cx="342.95" cy="191.02" r="0.95"/><circle cx="358.15" cy="191.79" r="0.95"/><circle cx="363.49" cy="182.72" r="0.95"/><circle cx="355.08" cy="201.08" r="0.95"/><circle cx="347" cy="177.83" r="0.95"/><circle cx="358.85" cy="189.71" r="0.95"/><circle cx="359.82" cy="184.73" r="0.95"/><circle cx="353.34" cy="207.34" r="0.95"/><circle cx="364.87" cy="180.01" r="0.95"/><circle cx="363.41" cy="174.41" r="0.95"/><circle cx="360.8" cy="182.11" r="0.95"/><circle cx="356.61" cy="173.02" r="0.95"/><circle cx="351.35" cy="180.6" r="0.95"/><circle cx="359.5" cy="202.39" r="0.95"/><circle cx="364.62" cy="179.84" r="0.95"/><circle cx="358.33" cy="210.91" r="0.95"/><circle cx="358.65" cy="191.89" r="0.95"/><circle cx="364.37" cy="189.96" r="0.95"/><circle cx="363.6" cy="181.67" r="0.95"/><circle cx="354.58" cy="186.21" r="0.95"/><circle cx="349.48" cy="202.26" r="0.95"/><circle cx="352.41" cy="205.17" r="0.95"/><circle cx="362.07" cy="205.89" r="0.95"/><circle cx="348.44" cy="197.07" r="0.95"/><circle cx="363.35" cy="199.37" r="0.95"/><circle cx="363" cy="200.15" r="0.95"/><circle cx="353.08" cy="210.13" r="0.95"/><circle cx="356.37" cy="182.44" r="0.95"/><circle cx="352.94" cy="176.89" r="0.95"/><circle cx="360.95" cy="186.62" r="0.95"/><circle cx="360.94" cy="207.58" r="0.95"/><circle cx="356.74" cy="201.84" r="0.95"/><circle cx="362.67" cy="183.08" r="0.95"/><circle cx="353.38" cy="203.85" r="0.95"/><circle cx="361.41" cy="196.01" r="0.95"/><circle cx="360.98" cy="198.4" r="0.95"/><circle cx="364.12" cy="189.3" r="0.95"/><circle cx="358.38" cy="173.67" r="0.95"/><circle cx="359.45" cy="212.54" r="0.95"/><circle cx="358.77" cy="196.88" r="0.95"/><circle cx="361.99" cy="189.96" r="0.95"/><circle cx="360.03" cy="200.87" r="0.95"/><circle cx="361.94" cy="190.51" r="0.95"/><circle cx="360.67" cy="180.16" r="0.95"/><circle cx="349.08" cy="201.14" r="0.95"/><circle cx="352.24" cy="204.53" r="0.95"/><circle cx="356.48" cy="199.46" r="0.95"/><circle cx="362.19" cy="182.24" r="0.95"/><circle cx="357.53" cy="210.37" r="0.95"/><circle cx="362.04" cy="178.22" r="0.95"/><circle cx="356.03" cy="177.36" r="0.95"/><circle cx="346.31" cy="187.48" r="0.95"/><circle cx="364.39" cy="186.17" r="0.95"/><circle cx="361.51" cy="184.5" r="0.95"/><circle cx="346.19" cy="191.03" r="0.95"/><circle cx="359.72" cy="199.5" r="0.95"/><circle cx="345.25" cy="187.41" r="0.95"/><circle cx="349.12" cy="205.56" r="0.95"/><circle cx="350.4" cy="191.65" r="0.95"/><circle cx="363.84" cy="188.61" r="0.95"/><circle cx="354.19" cy="210.27" r="0.95"/><circle cx="350.13" cy="182.85" r="0.95"/><circle cx="359.89" cy="204.2" r="0.95"/><circle cx="345.27" cy="183.99" r="0.95"/><circle cx="357.73" cy="179.6" r="0.95"/><circle cx="353.6" cy="190.28" r="0.95"/><circle cx="356.1" cy="200.01" r="0.95"/><circle cx="364.51" cy="190.28" r="0.95"/><circle cx="364.81" cy="180.2" r="0.95"/><circle cx="358.13" cy="200.86" r="0.95"/><circle cx="363.15" cy="190.09" r="0.95"/><circle cx="361.68" cy="194.64" r="0.95"/><circle cx="363.5" cy="175.98" r="0.95"/><circle cx="349.82" cy="191.57" r="0.95"/><circle cx="350.6" cy="178.57" r="0.95"/><circle cx="357.05" cy="186.1" r="0.95"/><circle cx="358.09" cy="188.06" r="0.95"/><circle cx="358.3" cy="193.3" r="0.95"/><circle cx="352.68" cy="190.01" r="0.95"/><circle cx="357.62" cy="195.81" r="0.95"/><circle cx="360.45" cy="209.47" r="0.95"/><circle cx="364.83" cy="177.79" r="0.95"/><circle cx="361.96" cy="176.26" r="0.95"/><circle cx="355.45" cy="199.31" r="0.95"/><circle cx="353.48" cy="178.29" r="0.95"/><circle cx="353.2" cy="214.5" r="0.95"/><circle cx="353.78" cy="206.8" r="0.95"/><circle cx="351.51" cy="204.25" r="0.95"/><circle cx="360.52" cy="191.43" r="0.95"/><circle cx="365.71" cy="179.73" r="0.95"/><circle cx="357.71" cy="192.38" r="0.95"/><circle cx="366.71" cy="180.18" r="0.95"/><circle cx="357.85" cy="191.17" r="0.95"/><circle cx="367.56" cy="175.22" r="0.95"/><circle cx="354.86" cy="188.79" r="0.95"/><circle cx="349.59" cy="188.66" r="0.95"/><circle cx="346.65" cy="194.03" r="0.95"/><circle cx="346.06" cy="194.37" r="0.95"/><circle cx="359.47" cy="193.88" r="0.95"/><circle cx="350.9" cy="210.09" r="0.95"/><circle cx="343.2" cy="201.72" r="0.95"/><circle cx="356.33" cy="177.92" r="0.95"/><circle cx="351.39" cy="202.28" r="0.95"/><circle cx="349.12" cy="180" r="0.95"/><circle cx="342.96" cy="193.39" r="0.95"/><circle cx="357.73" cy="175.46" r="0.95"/><circle cx="349.15" cy="199.47" r="0.95"/><circle cx="348.73" cy="184.31" r="0.95"/><circle cx="359.5" cy="175.77" r="0.95"/><circle cx="355.77" cy="193.76" r="0.95"/><circle cx="363.02" cy="200.9" r="0.95"/><circle cx="348.57" cy="197.71" r="0.95"/><circle cx="350.92" cy="190.85" r="0.95"/><circle cx="353.15" cy="184.56" r="0.95"/><circle cx="364.98" cy="183.15" r="0.95"/><circle cx="355.01" cy="186.69" r="0.95"/><circle cx="361.46" cy="201.88" r="0.95"/><circle cx="363.03" cy="176.44" r="0.95"/><circle cx="346.89" cy="185.39" r="0.95"/><circle cx="346.02" cy="188.15" r="0.95"/><circle cx="345.97" cy="196.7" r="0.95"/><circle cx="354.68" cy="205.48" r="0.95"/><circle cx="364.29" cy="183.12" r="0.95"/><circle cx="364.44" cy="188.96" r="0.95"/><circle cx="347.73" cy="207.52" r="0.95"/><circle cx="356.45" cy="210.47" r="0.95"/><circle cx="357.5" cy="192.65" r="0.95"/><circle cx="354.22" cy="214.24" r="0.95"/><circle cx="353.94" cy="200.17" r="0.95"/><circle cx="358.21" cy="181.55" r="0.95"/><circle cx="347.54" cy="177.69" r="0.95"/><circle cx="354.94" cy="185.75" r="0.95"/><circle cx="359.88" cy="187.12" r="0.95"/><circle cx="363.31" cy="192.86" r="0.95"/><circle cx="347.51" cy="185.96" r="0.95"/><circle cx="349.87" cy="199.84" r="0.95"/><circle cx="344.83" cy="191.8" r="0.95"/><circle cx="349.45" cy="212.33" r="0.95"/><circle cx="358.81" cy="205.88" r="0.95"/><circle cx="355.02" cy="183.74" r="0.95"/><circle cx="360.83" cy="193.32" r="0.95"/><circle cx="355.01" cy="207.73" r="0.95"/><circle cx="356.19" cy="208.43" r="0.95"/><circle cx="356.2" cy="192.55" r="0.95"/><circle cx="349" cy="179.2" r="0.95"/><circle cx="359.93" cy="200.35" r="0.95"/><circle cx="354.49" cy="189.36" r="0.95"/><circle cx="349.31" cy="199.33" r="0.95"/><circle cx="363.06" cy="187.48" r="0.95"/><circle cx="348.73" cy="181.67" r="0.95"/><circle cx="344.89" cy="183.38" r="0.95"/><circle cx="359.49" cy="183.94" r="0.95"/><circle cx="347.76" cy="197.84" r="0.95"/><circle cx="354.54" cy="211.96" r="0.95"/><circle cx="355.71" cy="192.46" r="0.95"/><circle cx="350.85" cy="203.72" r="0.95"/><circle cx="363.8" cy="181.37" r="0.95"/><circle cx="343.69" cy="206.44" r="0.95"/><circle cx="341.89" cy="204.62" r="0.95"/><circle cx="338.44" cy="204.05" r="0.95"/><circle cx="345.83" cy="207.72" r="0.95"/><circle cx="340.51" cy="203.83" r="0.95"/><circle cx="347.61" cy="209.67" r="0.95"/><circle cx="338" cy="204.11" r="0.95"/><circle cx="341.16" cy="203.75" r="0.95"/><circle cx="347.46" cy="208.7" r="0.95"/><circle cx="344.36" cy="207.8" r="0.95"/><circle cx="346.43" cy="207.67" r="0.95"/><circle cx="342.51" cy="206.23" r="0.95"/><circle cx="342.47" cy="206.22" r="0.95"/><circle cx="341.82" cy="204.56" r="0.95"/><circle cx="347.57" cy="208.19" r="0.95"/><circle cx="341.65" cy="204.82" r="0.95"/><circle cx="440.92" cy="188.32" r="0.95"/><circle cx="432.63" cy="182.75" r="0.95"/><circle cx="442.73" cy="190.61" r="0.95"/><circle cx="433.3" cy="185.45" r="0.95"/><circle cx="433.41" cy="182.37" r="0.95"/><circle cx="438.34" cy="185.96" r="0.95"/><circle cx="437.76" cy="197.87" r="0.95"/><circle cx="447.96" cy="180.69" r="0.95"/><circle cx="431.8" cy="177.69" r="0.95"/><circle cx="434.86" cy="187.16" r="0.95"/><circle cx="433.22" cy="175.66" r="0.95"/><circle cx="438.49" cy="202.01" r="0.95"/><circle cx="434.93" cy="176.93" r="0.95"/><circle cx="440.79" cy="196.23" r="0.95"/><circle cx="443.74" cy="175.62" r="0.95"/><circle cx="444.15" cy="181.86" r="0.95"/><circle cx="437.54" cy="175.56" r="0.95"/><circle cx="436.04" cy="179.07" r="0.95"/><circle cx="451.8" cy="184.22" r="0.95"/><circle cx="436.17" cy="195.9" r="0.95"/><circle cx="435.22" cy="182.49" r="0.95"/><circle cx="434.04" cy="176.82" r="0.95"/><circle cx="438.08" cy="174.13" r="0.95"/><circle cx="426.61" cy="173.76" r="0.95"/><circle cx="444.81" cy="177.24" r="0.95"/><circle cx="437.01" cy="192.33" r="0.95"/><circle cx="431.64" cy="188.66" r="0.95"/><circle cx="441.12" cy="181.11" r="0.95"/><circle cx="426.9" cy="175.4" r="0.95"/><circle cx="443.64" cy="189.35" r="0.95"/><circle cx="435.07" cy="175.63" r="0.95"/><circle cx="432.23" cy="187.8" r="0.95"/><circle cx="444.38" cy="193.15" r="0.95"/><circle cx="435.65" cy="182.69" r="0.95"/><circle cx="435.63" cy="184.27" r="0.95"/><circle cx="434.33" cy="183.14" r="0.95"/><circle cx="440.06" cy="202.18" r="0.95"/><circle cx="427.58" cy="175.01" r="0.95"/><circle cx="435.13" cy="179.53" r="0.95"/><circle cx="445.19" cy="179.31" r="0.95"/><circle cx="440.33" cy="203.14" r="0.95"/><circle cx="433.34" cy="192.95" r="0.95"/><circle cx="432.67" cy="172.71" r="0.95"/><circle cx="448.45" cy="188.08" r="0.95"/><circle cx="430.55" cy="183.91" r="0.95"/><circle cx="434.13" cy="192.05" r="0.95"/><circle cx="443.39" cy="195.89" r="0.95"/><circle cx="433.5" cy="183.87" r="0.95"/><circle cx="435.08" cy="191.72" r="0.95"/><circle cx="448.47" cy="178.83" r="0.95"/><circle cx="435.2" cy="172.96" r="0.95"/><circle cx="442.79" cy="197.32" r="0.95"/><circle cx="444.5" cy="197.77" r="0.95"/><circle cx="437.04" cy="174.93" r="0.95"/><circle cx="444.28" cy="206.79" r="0.95"/><circle cx="437.93" cy="195.68" r="0.95"/><circle cx="450.61" cy="203.53" r="0.95"/><circle cx="438.34" cy="199.43" r="0.95"/><circle cx="437.54" cy="189.94" r="0.95"/><circle cx="435.24" cy="176.7" r="0.95"/><circle cx="439.93" cy="202.83" r="0.95"/><circle cx="434.7" cy="185.37" r="0.95"/><circle cx="435.61" cy="176.88" r="0.95"/><circle cx="447.65" cy="182.52" r="0.95"/><circle cx="434.62" cy="180.01" r="0.95"/><circle cx="431.37" cy="185.17" r="0.95"/><circle cx="432.51" cy="188.36" r="0.95"/><circle cx="453.45" cy="187.16" r="0.95"/><circle cx="438.83" cy="193.15" r="0.95"/><circle cx="446.75" cy="203.61" r="0.95"/><circle cx="435.35" cy="173.73" r="0.95"/><circle cx="445.36" cy="181.69" r="0.95"/><circle cx="440.61" cy="178.57" r="0.95"/><circle cx="437.34" cy="198.17" r="0.95"/><circle cx="438.77" cy="177.57" r="0.95"/><circle cx="450.28" cy="188.04" r="0.95"/><circle cx="434.33" cy="188.22" r="0.95"/><circle cx="431.23" cy="187.97" r="0.95"/><circle cx="442.64" cy="186.64" r="0.95"/><circle cx="439.48" cy="191.54" r="0.95"/><circle cx="445.72" cy="174.96" r="0.95"/><circle cx="437.24" cy="181.18" r="0.95"/><circle cx="436.12" cy="185.15" r="0.95"/><circle cx="428.83" cy="174.24" r="0.95"/><circle cx="443.29" cy="180" r="0.95"/><circle cx="433.68" cy="179.7" r="0.95"/><circle cx="435.66" cy="192.98" r="0.95"/><circle cx="448.82" cy="177.55" r="0.95"/><circle cx="438.44" cy="178.91" r="0.95"/><circle cx="439.16" cy="198.07" r="0.95"/><circle cx="446.3" cy="194.35" r="0.95"/><circle cx="436.34" cy="181.01" r="0.95"/><circle cx="436.92" cy="184.67" r="0.95"/><circle cx="437.64" cy="195.55" r="0.95"/><circle cx="428.91" cy="175.11" r="0.95"/><circle cx="428.5" cy="178.74" r="0.95"/><circle cx="435.54" cy="188.72" r="0.95"/><circle cx="434.44" cy="172.82" r="0.95"/><circle cx="444.91" cy="192.89" r="0.95"/><circle cx="434.6" cy="174.64" r="0.95"/><circle cx="436.76" cy="185.93" r="0.95"/><circle cx="437.89" cy="198.65" r="0.95"/><circle cx="436.73" cy="178.25" r="0.95"/><circle cx="436.15" cy="196.46" r="0.95"/><circle cx="436.73" cy="178.62" r="0.95"/><circle cx="447.15" cy="204.87" r="0.95"/><circle cx="430.17" cy="174.98" r="0.95"/><circle cx="452.36" cy="193.2" r="0.95"/><circle cx="431.03" cy="178.56" r="0.95"/><circle cx="435.07" cy="184.61" r="0.95"/><circle cx="433.65" cy="187.69" r="0.95"/><circle cx="438.9" cy="182.09" r="0.95"/><circle cx="441.36" cy="175.03" r="0.95"/><circle cx="448.69" cy="194.68" r="0.95"/><circle cx="450.69" cy="195.47" r="0.95"/><circle cx="441.44" cy="198.18" r="0.95"/><circle cx="443.1" cy="199.2" r="0.95"/><circle cx="427.35" cy="173.69" r="0.95"/><circle cx="436.37" cy="192.6" r="0.95"/><circle cx="445.65" cy="197.43" r="0.95"/><circle cx="429.23" cy="177.34" r="0.95"/><circle cx="442.79" cy="196.13" r="0.95"/><circle cx="453.97" cy="199.84" r="0.95"/><circle cx="445.74" cy="177.07" r="0.95"/><circle cx="446.26" cy="203.64" r="0.95"/><circle cx="448.2" cy="181.71" r="0.95"/><circle cx="433.4" cy="187.87" r="0.95"/><circle cx="445.34" cy="203.65" r="0.95"/><circle cx="442.54" cy="190.08" r="0.95"/><circle cx="437.83" cy="191.92" r="0.95"/><circle cx="429.68" cy="172.89" r="0.95"/><circle cx="431.55" cy="174.14" r="0.95"/><circle cx="431.49" cy="184.64" r="0.95"/><circle cx="437.15" cy="175.6" r="0.95"/><circle cx="438.89" cy="175.83" r="0.95"/><circle cx="434.03" cy="174.09" r="0.95"/><circle cx="431.31" cy="180.23" r="0.95"/><circle cx="430.99" cy="173.28" r="0.95"/><circle cx="435.31" cy="178.47" r="0.95"/><circle cx="445.99" cy="201.56" r="0.95"/><circle cx="444.62" cy="202.31" r="0.95"/><circle cx="447.15" cy="184.99" r="0.95"/><circle cx="436.47" cy="195.69" r="0.95"/><circle cx="433.53" cy="184.43" r="0.95"/><circle cx="452.24" cy="184.73" r="0.95"/><circle cx="447.73" cy="175.59" r="0.95"/><circle cx="451.04" cy="187.91" r="0.95"/><circle cx="440.95" cy="178.69" r="0.95"/><circle cx="452.12" cy="198.05" r="0.95"/><circle cx="433.52" cy="180.02" r="0.95"/><circle cx="445.56" cy="178.32" r="0.95"/><circle cx="449.02" cy="197.92" r="0.95"/><circle cx="430.13" cy="173.39" r="0.95"/><circle cx="452.58" cy="183.23" r="0.95"/><circle cx="427.17" cy="174.71" r="0.95"/><circle cx="442.65" cy="204.95" r="0.95"/><circle cx="444.71" cy="179.81" r="0.95"/><circle cx="439.79" cy="201.28" r="0.95"/><circle cx="434.75" cy="179.74" r="0.95"/><circle cx="437.25" cy="174.87" r="0.95"/><circle cx="441.41" cy="202.68" r="0.95"/><circle cx="450.13" cy="175.14" r="0.95"/><circle cx="447.51" cy="199.87" r="0.95"/><circle cx="429.22" cy="180.84" r="0.95"/><circle cx="446.39" cy="176.78" r="0.95"/><circle cx="451.53" cy="201.86" r="0.95"/><circle cx="442.43" cy="198.31" r="0.95"/><circle cx="452.61" cy="196.67" r="0.95"/><circle cx="434.46" cy="178.91" r="0.95"/><circle cx="449.85" cy="204.12" r="0.95"/><circle cx="441.95" cy="201.53" r="0.95"/><circle cx="437.63" cy="200.47" r="0.95"/><circle cx="440.74" cy="184.55" r="0.95"/><circle cx="435.47" cy="187.67" r="0.95"/><circle cx="444.23" cy="188.37" r="0.95"/><circle cx="436.47" cy="180.8" r="0.95"/><circle cx="438.97" cy="172.74" r="0.95"/><circle cx="456.58" cy="193.48" r="0.95"/><circle cx="444.2" cy="197.98" r="0.95"/><circle cx="438.69" cy="180.24" r="0.95"/><circle cx="451.9" cy="181.18" r="0.95"/><circle cx="433.67" cy="191.15" r="0.95"/><circle cx="435.96" cy="179.97" r="0.95"/><circle cx="429.62" cy="178.06" r="0.95"/><circle cx="437" cy="191.46" r="0.95"/><circle cx="434.56" cy="187.6" r="0.95"/><circle cx="443.9" cy="204.08" r="0.95"/><circle cx="443.5" cy="180.18" r="0.95"/><circle cx="435.2" cy="183.88" r="0.95"/><circle cx="432.36" cy="173.9" r="0.95"/><circle cx="437.57" cy="196.03" r="0.95"/><circle cx="441.09" cy="200.64" r="0.95"/><circle cx="446.35" cy="202.12" r="0.95"/><circle cx="449.06" cy="175.17" r="0.95"/><circle cx="436.23" cy="184.79" r="0.95"/><circle cx="429.07" cy="179.88" r="0.95"/><circle cx="430.66" cy="173.43" r="0.95"/><circle cx="440.74" cy="179.29" r="0.95"/><circle cx="449.47" cy="202.25" r="0.95"/><circle cx="451.27" cy="195.97" r="0.95"/><circle cx="435.06" cy="178.7" r="0.95"/><circle cx="431.24" cy="176.84" r="0.95"/><circle cx="431.18" cy="177.66" r="0.95"/><circle cx="435.91" cy="192.97" r="0.95"/><circle cx="435.13" cy="188.97" r="0.95"/><circle cx="441.42" cy="183.63" r="0.95"/><circle cx="432.53" cy="182.73" r="0.95"/><circle cx="429.71" cy="180.79" r="0.95"/><circle cx="444.39" cy="191.92" r="0.95"/><circle cx="447.31" cy="199.49" r="0.95"/><circle cx="438.96" cy="202.56" r="0.95"/><circle cx="443.06" cy="185.12" r="0.95"/><circle cx="429.67" cy="178.15" r="0.95"/><circle cx="446.28" cy="178.11" r="0.95"/><circle cx="449.61" cy="195.06" r="0.95"/><circle cx="444.5" cy="179.38" r="0.95"/><circle cx="440.39" cy="194.83" r="0.95"/><circle cx="437.81" cy="195.92" r="0.95"/><circle cx="433.55" cy="187.09" r="0.95"/><circle cx="441.83" cy="192.91" r="0.95"/><circle cx="433.78" cy="181.75" r="0.95"/><circle cx="439.06" cy="176.56" r="0.95"/><circle cx="437.1" cy="173.15" r="0.95"/><circle cx="449.6" cy="177.15" r="0.95"/><circle cx="440.01" cy="177.86" r="0.95"/><circle cx="438.68" cy="172.82" r="0.95"/><circle cx="441.68" cy="196.65" r="0.95"/><circle cx="440.73" cy="188.79" r="0.95"/><circle cx="427.89" cy="177.03" r="0.95"/><circle cx="456.1" cy="194.88" r="0.95"/><circle cx="430.69" cy="182.66" r="0.95"/><circle cx="446.79" cy="175.66" r="0.95"/><circle cx="445.42" cy="203.67" r="0.95"/><circle cx="445.86" cy="191.84" r="0.95"/><circle cx="455" cy="191.93" r="0.95"/><circle cx="436.91" cy="198.83" r="0.95"/><circle cx="435.21" cy="177.12" r="0.95"/><circle cx="454.07" cy="182.74" r="0.95"/><circle cx="444.87" cy="196.38" r="0.95"/><circle cx="445.32" cy="199.93" r="0.95"/><circle cx="434.31" cy="178.65" r="0.95"/><circle cx="441.34" cy="175.2" r="0.95"/><circle cx="437.1" cy="172.74" r="0.95"/><circle cx="437.52" cy="195.2" r="0.95"/><circle cx="445.76" cy="193.09" r="0.95"/><circle cx="440.36" cy="183.82" r="0.95"/><circle cx="443.02" cy="174.57" r="0.95"/><circle cx="449.71" cy="196.9" r="0.95"/><circle cx="440.49" cy="181.48" r="0.95"/><circle cx="448.31" cy="181.32" r="0.95"/><circle cx="450.34" cy="186.53" r="0.95"/><circle cx="445.23" cy="173.99" r="0.95"/><circle cx="435.78" cy="189.72" r="0.95"/><circle cx="431.84" cy="175.8" r="0.95"/><circle cx="438.95" cy="200.16" r="0.95"/><circle cx="443.03" cy="196.27" r="0.95"/><circle cx="435.78" cy="190.73" r="0.95"/><circle cx="452.75" cy="197.81" r="0.95"/><circle cx="439.35" cy="179.56" r="0.95"/><circle cx="448.38" cy="199.18" r="0.95"/><circle cx="443.76" cy="198.49" r="0.95"/><circle cx="427.04" cy="172.58" r="0.95"/><circle cx="448.26" cy="188.11" r="0.95"/><circle cx="447.1" cy="186.53" r="0.95"/><circle cx="437.22" cy="189.5" r="0.95"/><circle cx="429.53" cy="179.24" r="0.95"/><circle cx="447.22" cy="172.81" r="0.95"/><circle cx="436.6" cy="181.78" r="0.95"/><circle cx="438.58" cy="184.8" r="0.95"/><circle cx="445.39" cy="182.37" r="0.95"/><circle cx="446.63" cy="176.42" r="0.95"/><circle cx="427.61" cy="174.32" r="0.95"/><circle cx="444.88" cy="198.99" r="0.95"/><circle cx="431.35" cy="185.53" r="0.95"/><circle cx="442" cy="191.06" r="0.95"/><circle cx="430.41" cy="180.29" r="0.95"/><circle cx="432.57" cy="184.58" r="0.95"/><circle cx="446.6" cy="187.72" r="0.95"/><circle cx="436.12" cy="180.31" r="0.95"/><circle cx="439.98" cy="188.55" r="0.95"/><circle cx="441.24" cy="199.75" r="0.95"/><circle cx="441.15" cy="191.52" r="0.95"/><circle cx="438.46" cy="199.69" r="0.95"/><circle cx="445.21" cy="181.32" r="0.95"/><circle cx="442.75" cy="196.34" r="0.95"/><circle cx="442.83" cy="195.26" r="0.95"/><circle cx="434.1" cy="177.09" r="0.95"/><circle cx="433.11" cy="178.21" r="0.95"/><circle cx="446.85" cy="183.19" r="0.95"/><circle cx="443.83" cy="183.46" r="0.95"/><circle cx="440.08" cy="203.66" r="0.95"/><circle cx="443.72" cy="185.3" r="0.95"/><circle cx="441.37" cy="198.45" r="0.95"/><circle cx="442.21" cy="181.38" r="0.95"/><circle cx="442.06" cy="191.24" r="0.95"/><circle cx="439.87" cy="180.88" r="0.95"/><circle cx="455.16" cy="195.63" r="0.95"/><circle cx="439.2" cy="189.39" r="0.95"/><circle cx="435.84" cy="180.17" r="0.95"/><circle cx="437.55" cy="197.83" r="0.95"/><circle cx="444.04" cy="184.94" r="0.95"/><circle cx="430.34" cy="174.17" r="0.95"/><circle cx="443.48" cy="198.39" r="0.95"/><circle cx="446.38" cy="180.5" r="0.95"/><circle cx="438.46" cy="201.57" r="0.95"/><circle cx="451.73" cy="192.88" r="0.95"/><circle cx="451.83" cy="190.08" r="0.95"/><circle cx="445.37" cy="193.78" r="0.95"/><circle cx="442.56" cy="179.05" r="0.95"/><circle cx="441.44" cy="173.45" r="0.95"/><circle cx="433.75" cy="178.9" r="0.95"/><circle cx="434.8" cy="186.98" r="0.95"/><circle cx="437.98" cy="183.55" r="0.95"/><circle cx="436.94" cy="175.89" r="0.95"/><circle cx="428.5" cy="180.14" r="0.95"/><circle cx="443.81" cy="200.49" r="0.95"/><circle cx="441.99" cy="188.34" r="0.95"/><circle cx="433.69" cy="178.11" r="0.95"/><circle cx="442.03" cy="195.71" r="0.95"/><circle cx="432.4" cy="178.88" r="0.95"/><circle cx="438.85" cy="194.85" r="0.95"/><circle cx="438.43" cy="191.27" r="0.95"/><circle cx="451.94" cy="180.03" r="0.95"/><circle cx="438.43" cy="200.43" r="0.95"/><circle cx="444.71" cy="207.66" r="0.95"/><circle cx="438.3" cy="181.45" r="0.95"/><circle cx="447.91" cy="195.52" r="0.95"/><circle cx="441.29" cy="195.68" r="0.95"/><circle cx="453.17" cy="189.57" r="0.95"/><circle cx="444.85" cy="173.99" r="0.95"/><circle cx="436.48" cy="173.64" r="0.95"/><circle cx="431.32" cy="183.55" r="0.95"/><circle cx="442.14" cy="173.52" r="0.95"/><circle cx="435.85" cy="197.71" r="0.95"/><circle cx="447.52" cy="173.18" r="0.95"/><circle cx="443.47" cy="196.19" r="0.95"/><circle cx="432.87" cy="183.71" r="0.95"/><circle cx="439.8" cy="201.62" r="0.95"/><circle cx="447.28" cy="206.94" r="0.95"/><circle cx="431.72" cy="187.32" r="0.95"/><circle cx="430.23" cy="173.9" r="0.95"/><circle cx="455.98" cy="197.79" r="0.95"/><circle cx="440.19" cy="172.61" r="0.95"/><circle cx="442.48" cy="201.39" r="0.95"/><circle cx="437.43" cy="190.86" r="0.95"/><circle cx="432.91" cy="175.06" r="0.95"/><circle cx="439.73" cy="201.28" r="0.95"/><circle cx="436.49" cy="195.14" r="0.95"/><circle cx="432.35" cy="175.51" r="0.95"/><circle cx="440.85" cy="192.7" r="0.95"/><circle cx="434.38" cy="183.01" r="0.95"/><circle cx="442.38" cy="192.72" r="0.95"/><circle cx="438.21" cy="192.67" r="0.95"/><circle cx="449.06" cy="194.89" r="0.95"/><circle cx="443.71" cy="180.29" r="0.95"/><circle cx="431.73" cy="185.72" r="0.95"/><circle cx="442.65" cy="174.02" r="0.95"/><circle cx="447.49" cy="203.3" r="0.95"/><circle cx="441.93" cy="188.36" r="0.95"/><circle cx="435.03" cy="175.91" r="0.95"/><circle cx="443.53" cy="199.31" r="0.95"/><circle cx="446.03" cy="191.41" r="0.95"/><circle cx="439.4" cy="182.87" r="0.95"/><circle cx="453.13" cy="193.96" r="0.95"/><circle cx="443.48" cy="205.56" r="0.95"/><circle cx="455.63" cy="197.07" r="0.95"/><circle cx="432.61" cy="184.44" r="0.95"/><circle cx="440.91" cy="195.92" r="0.95"/><circle cx="441.51" cy="205.78" r="0.95"/><circle cx="434.41" cy="193.72" r="0.95"/><circle cx="441.38" cy="202.81" r="0.95"/><circle cx="446.91" cy="200.61" r="0.95"/><circle cx="434.22" cy="193.78" r="0.95"/><circle cx="448.91" cy="176.13" r="0.95"/><circle cx="451.84" cy="196.04" r="0.95"/><circle cx="428.09" cy="174.24" r="0.95"/><circle cx="452.79" cy="199.78" r="0.95"/><circle cx="445.65" cy="198.39" r="0.95"/><circle cx="437.9" cy="198.79" r="0.95"/><circle cx="440.82" cy="181.79" r="0.95"/><circle cx="445.95" cy="176.45" r="0.95"/><circle cx="447.17" cy="203.55" r="0.95"/><circle cx="442.73" cy="198.14" r="0.95"/><circle cx="440.58" cy="195.6" r="0.95"/><circle cx="432.15" cy="178.35" r="0.95"/><circle cx="433.04" cy="188.32" r="0.95"/><circle cx="442.31" cy="192.18" r="0.95"/><circle cx="438.21" cy="181.23" r="0.95"/><circle cx="450.18" cy="187.82" r="0.95"/><circle cx="432.54" cy="172.91" r="0.95"/><circle cx="446.53" cy="199.52" r="0.95"/><circle cx="439.06" cy="187.49" r="0.95"/><circle cx="444.65" cy="207.39" r="0.95"/><circle cx="435.52" cy="174.15" r="0.95"/><circle cx="444.66" cy="177.86" r="0.95"/><circle cx="446.26" cy="191.88" r="0.95"/><circle cx="431.2" cy="185.18" r="0.95"/><circle cx="437.17" cy="185.22" r="0.95"/><circle cx="440.54" cy="203.19" r="0.95"/><circle cx="446.52" cy="203.02" r="0.95"/><circle cx="433.91" cy="176.08" r="0.95"/><circle cx="432.17" cy="183.72" r="0.95"/><circle cx="438.54" cy="174.14" r="0.95"/><circle cx="426.58" cy="173.96" r="0.95"/><circle cx="449.21" cy="204.73" r="0.95"/><circle cx="441.98" cy="189.81" r="0.95"/><circle cx="431.39" cy="180.58" r="0.95"/><circle cx="436.34" cy="190.02" r="0.95"/><circle cx="432.95" cy="180.35" r="0.95"/><circle cx="435.47" cy="182.56" r="0.95"/><circle cx="445.86" cy="186.34" r="0.95"/><circle cx="447.77" cy="193.85" r="0.95"/><circle cx="445.39" cy="202.91" r="0.95"/><circle cx="438.22" cy="194.79" r="0.95"/><circle cx="439.65" cy="200.86" r="0.95"/><circle cx="451.85" cy="189.51" r="0.95"/><circle cx="447.18" cy="182.96" r="0.95"/><circle cx="455.81" cy="196.8" r="0.95"/><circle cx="434.15" cy="192.66" r="0.95"/><circle cx="440.67" cy="196.67" r="0.95"/><circle cx="427.29" cy="176.54" r="0.95"/><circle cx="432.57" cy="172.7" r="0.95"/><circle cx="443.91" cy="203.07" r="0.95"/><circle cx="427.92" cy="175.69" r="0.95"/><circle cx="446.26" cy="177" r="0.95"/><circle cx="432.67" cy="190.96" r="0.95"/><circle cx="446.96" cy="192.59" r="0.95"/><circle cx="450.37" cy="186.56" r="0.95"/><circle cx="449.12" cy="196.92" r="0.95"/><circle cx="443.67" cy="200.93" r="0.95"/><circle cx="429.07" cy="182.68" r="0.95"/><circle cx="447.47" cy="176.73" r="0.95"/><circle cx="436.38" cy="183.45" r="0.95"/><circle cx="433.12" cy="185.83" r="0.95"/><circle cx="447.44" cy="199.55" r="0.95"/><circle cx="427.52" cy="173.27" r="0.95"/><circle cx="436.35" cy="176.56" r="0.95"/><circle cx="434.68" cy="194.74" r="0.95"/><circle cx="456.23" cy="198.54" r="0.95"/><circle cx="444.26" cy="206.72" r="0.95"/><circle cx="324.4" cy="189.8" r="0.95"/><circle cx="338.2" cy="177.5" r="0.95"/><circle cx="338" cy="192.5" r="0.95"/><circle cx="465.2" cy="187.8" r="0.95"/><circle cx="459.3" cy="190.7" r="0.95"/><circle cx="458.6" cy="195.1" r="0.95"/><circle cx="341" cy="184" r="0.95"/><circle cx="403.27" cy="177.72" r="0.95"/><circle cx="405.12" cy="177.36" r="0.95"/><circle cx="403.09" cy="177.28" r="0.95"/><circle cx="402.86" cy="174.1" r="0.95"/><circle cx="402.93" cy="178.6" r="0.95"/><circle cx="403.62" cy="174.98" r="0.95"/><circle cx="405.09" cy="179.73" r="0.95"/><circle cx="405.37" cy="174.77" r="0.95"/></g><g fill="#0000f0"><circle cx="378.39" cy="158.11" r="1.1"/><circle cx="373.81" cy="156.35" r="1.1"/><circle cx="380.38" cy="171.94" r="1.1"/><circle cx="377.39" cy="170.2" r="1.1"/><circle cx="379.63" cy="155.84" r="1.1"/><circle cx="379.98" cy="164.33" r="1.1"/><circle cx="362.13" cy="170.21" r="1.1"/><circle cx="354.06" cy="171.13" r="1.1"/><circle cx="356.87" cy="169.2" r="1.1"/><circle cx="375.7" cy="154.79" r="1.1"/><circle cx="380.98" cy="167.84" r="1.1"/><circle cx="363.29" cy="161.13" r="1.1"/><circle cx="379.33" cy="162.96" r="1.1"/><circle cx="375.16" cy="156.22" r="1.1"/><circle cx="354.46" cy="156.87" r="1.1"/><circle cx="365.78" cy="169.64" r="1.1"/><circle cx="371.53" cy="160.55" r="1.1"/><circle cx="366.14" cy="169.61" r="1.1"/><circle cx="363.6" cy="155.88" r="1.1"/><circle cx="380.32" cy="170.91" r="1.1"/><circle cx="377.65" cy="157.78" r="1.1"/><circle cx="368.32" cy="160.12" r="1.1"/><circle cx="365.4" cy="144.86" r="1.1"/><circle cx="377.05" cy="163.5" r="1.1"/><circle cx="373.68" cy="169.22" r="1.1"/><circle cx="377.28" cy="163.64" r="1.1"/><circle cx="358.78" cy="145.58" r="1.1"/><circle cx="353.43" cy="170.66" r="1.1"/><circle cx="372.91" cy="158.41" r="1.1"/><circle cx="363.82" cy="157.04" r="1.1"/><circle cx="374.42" cy="163.77" r="1.1"/><circle cx="363.01" cy="160.21" r="1.1"/><circle cx="361.63" cy="166.22" r="1.1"/><circle cx="361.98" cy="167.86" r="1.1"/><circle cx="366.96" cy="150.34" r="1.1"/><circle cx="361.65" cy="167.07" r="1.1"/><circle cx="365.62" cy="155.39" r="1.1"/><circle cx="357.66" cy="161.2" r="1.1"/><circle cx="363.9" cy="171.61" r="1.1"/><circle cx="373.1" cy="159.43" r="1.1"/><circle cx="353.54" cy="153.64" r="1.1"/><circle cx="377.91" cy="171.08" r="1.1"/><circle cx="370.91" cy="162.78" r="1.1"/><circle cx="371.7" cy="157.39" r="1.1"/><circle cx="372.65" cy="149.19" r="1.1"/><circle cx="376.41" cy="169.29" r="1.1"/><circle cx="358.44" cy="163.21" r="1.1"/><circle cx="353.22" cy="171.48" r="1.1"/><circle cx="368.65" cy="166.65" r="1.1"/><circle cx="365.99" cy="163.95" r="1.1"/><circle cx="367.33" cy="161.36" r="1.1"/><circle cx="372.88" cy="153.62" r="1.1"/><circle cx="366.06" cy="143.85" r="1.1"/><circle cx="357.77" cy="159.19" r="1.1"/><circle cx="367.56" cy="171.21" r="1.1"/><circle cx="359.32" cy="168.95" r="1.1"/><circle cx="372.72" cy="154.26" r="1.1"/><circle cx="365.51" cy="161.52" r="1.1"/><circle cx="374.01" cy="165.67" r="1.1"/><circle cx="367.97" cy="157.69" r="1.1"/><circle cx="367.73" cy="157.2" r="1.1"/><circle cx="380.23" cy="160.92" r="1.1"/><circle cx="364.68" cy="143.08" r="1.1"/><circle cx="364.35" cy="144.69" r="1.1"/><circle cx="379.02" cy="157.52" r="1.1"/><circle cx="373.42" cy="161.17" r="1.1"/><circle cx="380.09" cy="165.28" r="1.1"/><circle cx="355" cy="168.19" r="1.1"/><circle cx="374.38" cy="170.51" r="1.1"/><circle cx="376.5" cy="163.86" r="1.1"/><circle cx="361.22" cy="149.6" r="1.1"/><circle cx="371.27" cy="162.77" r="1.1"/><circle cx="377.61" cy="155.58" r="1.1"/><circle cx="365.37" cy="169.94" r="1.1"/><circle cx="358.89" cy="164.85" r="1.1"/><circle cx="358.03" cy="147.73" r="1.1"/><circle cx="363.6" cy="148.29" r="1.1"/><circle cx="351.26" cy="148.89" r="1.1"/><circle cx="380.02" cy="158.83" r="1.1"/><circle cx="364.16" cy="161.41" r="1.1"/><circle cx="366.91" cy="167.66" r="1.1"/><circle cx="369.2" cy="153.88" r="1.1"/><circle cx="378.73" cy="167.3" r="1.1"/><circle cx="354.8" cy="156.51" r="1.1"/><circle cx="360.52" cy="152.56" r="1.1"/><circle cx="361.28" cy="148.08" r="1.1"/><circle cx="353.18" cy="139.27" r="1.1"/><circle cx="373.17" cy="154.68" r="1.1"/><circle cx="362.24" cy="170.66" r="1.1"/><circle cx="376.47" cy="167.62" r="1.1"/><circle cx="379.23" cy="165.48" r="1.1"/><circle cx="374.77" cy="170.26" r="1.1"/><circle cx="378.58" cy="171.32" r="1.1"/><circle cx="352.3" cy="146.97" r="1.1"/><circle cx="372.04" cy="170.13" r="1.1"/><circle cx="364.04" cy="171.87" r="1.1"/><circle cx="377.35" cy="161.39" r="1.1"/><circle cx="358.52" cy="161.68" r="1.1"/><circle cx="376.44" cy="168.75" r="1.1"/><circle cx="363.89" cy="146.49" r="1.1"/><circle cx="375.32" cy="165.06" r="1.1"/><circle cx="368.62" cy="153.92" r="1.1"/><circle cx="357.46" cy="158.72" r="1.1"/><circle cx="359.9" cy="150.85" r="1.1"/><circle cx="365.1" cy="165.83" r="1.1"/><circle cx="380.36" cy="171.29" r="1.1"/><circle cx="379.6" cy="163.43" r="1.1"/><circle cx="372.64" cy="168.5" r="1.1"/><circle cx="360.09" cy="155.68" r="1.1"/><circle cx="362.23" cy="142.13" r="1.1"/><circle cx="376.61" cy="170.88" r="1.1"/><circle cx="372.15" cy="160.85" r="1.1"/><circle cx="364.37" cy="155.47" r="1.1"/><circle cx="354.82" cy="171.1" r="1.1"/><circle cx="371.94" cy="159.45" r="1.1"/><circle cx="355.24" cy="168.2" r="1.1"/><circle cx="361.52" cy="149.36" r="1.1"/><circle cx="367.62" cy="162.39" r="1.1"/><circle cx="358.99" cy="170.11" r="1.1"/><circle cx="375.06" cy="152.66" r="1.1"/><circle cx="359.62" cy="169.59" r="1.1"/><circle cx="379.4" cy="161.96" r="1.1"/><circle cx="356.24" cy="168.45" r="1.1"/><circle cx="357.12" cy="152.96" r="1.1"/><circle cx="356.97" cy="167" r="1.1"/><circle cx="369.45" cy="170.2" r="1.1"/><circle cx="371.64" cy="159.72" r="1.1"/><circle cx="365.86" cy="170.99" r="1.1"/><circle cx="367.38" cy="160.5" r="1.1"/><circle cx="373.1" cy="149.11" r="1.1"/><circle cx="368.99" cy="152.23" r="1.1"/><circle cx="370.01" cy="162.62" r="1.1"/><circle cx="362.55" cy="159.8" r="1.1"/><circle cx="369.42" cy="169.04" r="1.1"/><circle cx="361.32" cy="171.24" r="1.1"/><circle cx="368.38" cy="150.54" r="1.1"/><circle cx="363" cy="153.62" r="1.1"/><circle cx="378.59" cy="171.49" r="1.1"/><circle cx="359.01" cy="162.23" r="1.1"/><circle cx="376.16" cy="160.83" r="1.1"/><circle cx="342.3" cy="157.5" r="1.1"/><circle cx="351.5" cy="134.6" r="1.1"/><circle cx="359.8" cy="90.9" r="1.1"/><circle cx="355.4" cy="94.5" r="1.1"/><circle cx="337.9" cy="98.2" r="1.1"/><circle cx="346.7" cy="106.4" r="1.1"/><circle cx="325.4" cy="45.2" r="1.1"/><circle cx="365.7" cy="118.1" r="1.1"/><circle cx="357.8" cy="126.3" r="1.1"/><circle cx="352.5" cy="134.3" r="1.1"/></g><g fill="#f00000"><circle cx="423.51" cy="156.92" r="1.1"/><circle cx="417.78" cy="149.73" r="1.1"/><circle cx="442.16" cy="157.27" r="1.1"/><circle cx="416.12" cy="159.04" r="1.1"/><circle cx="419.54" cy="171.94" r="1.1"/><circle cx="447.07" cy="167" r="1.1"/><circle cx="438.09" cy="166.73" r="1.1"/><circle cx="418.84" cy="166.14" r="1.1"/><circle cx="417.86" cy="156.09" r="1.1"/><circle cx="444.85" cy="170.43" r="1.1"/><circle cx="445.34" cy="160.56" r="1.1"/><circle cx="415.9" cy="166.21" r="1.1"/><circle cx="414.64" cy="155.06" r="1.1"/><circle cx="413.81" cy="171.62" r="1.1"/><circle cx="420.68" cy="150.15" r="1.1"/><circle cx="422.34" cy="166.42" r="1.1"/><circle cx="424.27" cy="166.48" r="1.1"/><circle cx="428.32" cy="158.87" r="1.1"/><circle cx="425.87" cy="165.79" r="1.1"/><circle cx="447.39" cy="168.46" r="1.1"/><circle cx="420.69" cy="163.01" r="1.1"/><circle cx="450.47" cy="169.06" r="1.1"/><circle cx="417.67" cy="167.79" r="1.1"/><circle cx="424.9" cy="138.19" r="1.1"/><circle cx="425.81" cy="137.67" r="1.1"/><circle cx="429.56" cy="158.66" r="1.1"/><circle cx="415.03" cy="156.5" r="1.1"/><circle cx="417.77" cy="169.43" r="1.1"/><circle cx="417.08" cy="170.9" r="1.1"/><circle cx="445.4" cy="166.42" r="1.1"/><circle cx="432.69" cy="166.44" r="1.1"/><circle cx="422.43" cy="164.44" r="1.1"/><circle cx="410.42" cy="167.73" r="1.1"/><circle cx="432.62" cy="159.49" r="1.1"/><circle cx="414.75" cy="171.89" r="1.1"/><circle cx="418.03" cy="170.73" r="1.1"/><circle cx="434.47" cy="146.37" r="1.1"/><circle cx="430.2" cy="166.88" r="1.1"/><circle cx="423.74" cy="140.86" r="1.1"/><circle cx="416.94" cy="171.3" r="1.1"/><circle cx="417.42" cy="156.59" r="1.1"/><circle cx="439.43" cy="162.89" r="1.1"/><circle cx="442.41" cy="153.38" r="1.1"/><circle cx="414.68" cy="165.88" r="1.1"/><circle cx="420.55" cy="163.09" r="1.1"/><circle cx="423.17" cy="158.71" r="1.1"/><circle cx="443.42" cy="145.67" r="1.1"/><circle cx="429.48" cy="168.45" r="1.1"/><circle cx="440.3" cy="157.35" r="1.1"/><circle cx="425.76" cy="144.93" r="1.1"/><circle cx="434.3" cy="162.31" r="1.1"/><circle cx="436.65" cy="155.13" r="1.1"/><circle cx="447.8" cy="165.11" r="1.1"/><circle cx="418.22" cy="170.13" r="1.1"/><circle cx="435.08" cy="157.44" r="1.1"/><circle cx="410.82" cy="169.83" r="1.1"/><circle cx="440.11" cy="163.54" r="1.1"/><circle cx="429.19" cy="169.48" r="1.1"/><circle cx="430.11" cy="148.84" r="1.1"/><circle cx="430.28" cy="147.92" r="1.1"/><circle cx="437.66" cy="163.82" r="1.1"/><circle cx="416.14" cy="171.44" r="1.1"/><circle cx="417.51" cy="169.16" r="1.1"/><circle cx="426.85" cy="163.52" r="1.1"/><circle cx="430.91" cy="166.34" r="1.1"/><circle cx="416.03" cy="162.2" r="1.1"/><circle cx="422.79" cy="159.19" r="1.1"/><circle cx="435.23" cy="164.85" r="1.1"/><circle cx="415.39" cy="166.17" r="1.1"/><circle cx="411.58" cy="164.65" r="1.1"/><circle cx="414.22" cy="171.67" r="1.1"/><circle cx="415.02" cy="168.17" r="1.1"/><circle cx="432.35" cy="157.98" r="1.1"/><circle cx="417.31" cy="169.49" r="1.1"/><circle cx="422.42" cy="168.49" r="1.1"/><circle cx="423.31" cy="153.47" r="1.1"/><circle cx="419.78" cy="150.55" r="1.1"/><circle cx="450.05" cy="168.95" r="1.1"/><circle cx="412.57" cy="165.9" r="1.1"/><circle cx="424.58" cy="164.08" r="1.1"/><circle cx="423.01" cy="165.53" r="1.1"/><circle cx="430.34" cy="136.9" r="1.1"/><circle cx="431.33" cy="151.46" r="1.1"/><circle cx="423.72" cy="146.3" r="1.1"/><circle cx="422.51" cy="169.62" r="1.1"/><circle cx="430.8" cy="154.75" r="1.1"/><circle cx="448.01" cy="169.51" r="1.1"/><circle cx="423.73" cy="141.95" r="1.1"/><circle cx="438.39" cy="145.2" r="1.1"/><circle cx="423.73" cy="156.31" r="1.1"/><circle cx="421.74" cy="157.8" r="1.1"/><circle cx="440.8" cy="168.97" r="1.1"/><circle cx="425.43" cy="167.15" r="1.1"/><circle cx="436.44" cy="168.13" r="1.1"/><circle cx="425.08" cy="156.57" r="1.1"/><circle cx="430.21" cy="168.25" r="1.1"/><circle cx="417.95" cy="163.86" r="1.1"/><circle cx="426.87" cy="167.39" r="1.1"/><circle cx="443.81" cy="165.7" r="1.1"/><circle cx="418.88" cy="155.68" r="1.1"/><circle cx="439.91" cy="162.69" r="1.1"/><circle cx="414.4" cy="162.54" r="1.1"/><circle cx="411.22" cy="168.11" r="1.1"/><circle cx="421.96" cy="165.44" r="1.1"/><circle cx="426.91" cy="169.82" r="1.1"/><circle cx="425.86" cy="150.37" r="1.1"/><circle cx="430.18" cy="156.85" r="1.1"/><circle cx="416.43" cy="169.6" r="1.1"/><circle cx="417.23" cy="168.54" r="1.1"/><circle cx="443.69" cy="165.8" r="1.1"/><circle cx="421.23" cy="160.64" r="1.1"/><circle cx="420.59" cy="145.48" r="1.1"/><circle cx="419.95" cy="169.4" r="1.1"/><circle cx="440.18" cy="171.14" r="1.1"/><circle cx="441.05" cy="168.13" r="1.1"/><circle cx="434.53" cy="165.02" r="1.1"/><circle cx="413.08" cy="166.39" r="1.1"/><circle cx="412.02" cy="166.41" r="1.1"/><circle cx="445.44" cy="163.06" r="1.1"/><circle cx="416.75" cy="167.14" r="1.1"/><circle cx="430.51" cy="136.1" r="1.1"/><circle cx="431.66" cy="137.19" r="1.1"/><circle cx="430.74" cy="160.35" r="1.1"/><circle cx="418.67" cy="159.88" r="1.1"/><circle cx="422.92" cy="144.64" r="1.1"/><circle cx="418.4" cy="154.17" r="1.1"/><circle cx="415.78" cy="169.65" r="1.1"/><circle cx="418.39" cy="150.85" r="1.1"/><circle cx="423.92" cy="160.62" r="1.1"/><circle cx="428.28" cy="156.67" r="1.1"/><circle cx="415.21" cy="170.49" r="1.1"/><circle cx="427.73" cy="136.42" r="1.1"/><circle cx="433.7" cy="135.07" r="1.1"/><circle cx="418.7" cy="163.53" r="1.1"/><circle cx="430" cy="167.57" r="1.1"/><circle cx="431.78" cy="148.71" r="1.1"/><circle cx="422.79" cy="140.32" r="1.1"/><circle cx="445.81" cy="149.89" r="1.1"/><circle cx="437.15" cy="157.69" r="1.1"/><circle cx="424.2" cy="166.5" r="1.1"/><circle cx="428.85" cy="153.91" r="1.1"/><circle cx="433.58" cy="141.92" r="1.1"/><circle cx="433.9" cy="170.06" r="1.1"/><circle cx="441.15" cy="153.9" r="1.1"/><circle cx="433.91" cy="167.84" r="1.1"/><circle cx="449.98" cy="159.35" r="1.1"/><circle cx="428.09" cy="169.21" r="1.1"/><circle cx="424.83" cy="168.85" r="1.1"/><circle cx="418.89" cy="148.81" r="1.1"/><circle cx="446.22" cy="169.21" r="1.1"/><circle cx="468.1" cy="42.3" r="1.1"/><circle cx="453.6" cy="56.3" r="1.1"/><circle cx="466.5" cy="170.4" r="1.1"/><circle cx="420" cy="136.5" r="1.1"/><circle cx="438.5" cy="130" r="1.1"/><circle cx="433" cy="133" r="1.1"/><circle cx="435.2" cy="90" r="1.1"/><circle cx="437.9" cy="90" r="1.1"/><circle cx="452.6" cy="90.8" r="1.1"/><circle cx="432.6" cy="98.5" r="1.1"/><circle cx="428.6" cy="94.2" r="1.1"/><circle cx="430" cy="94.6" r="1.1"/><circle cx="443.8" cy="101.8" r="1.1"/><circle cx="464.9" cy="103.6" r="1.1"/><circle cx="435.7" cy="110.2" r="1.1"/><circle cx="445.1" cy="110.2" r="1.1"/><circle cx="435" cy="115.2" r="1.1"/><circle cx="440" cy="115.7" r="1.1"/><circle cx="446" cy="118.5" r="1.1"/><circle cx="460.9" cy="116.8" r="1.1"/><circle cx="421.4" cy="118.5" r="1.1"/><circle cx="425.8" cy="122.3" r="1.1"/><circle cx="431.3" cy="120.7" r="1.1"/><circle cx="437.4" cy="121.8" r="1.1"/><circle cx="454.3" cy="122.3" r="1.1"/><circle cx="456.5" cy="125.1" r="1.1"/><circle cx="430.2" cy="133.2" r="1.1"/><circle cx="433.5" cy="131.7" r="1.1"/><circle cx="440" cy="131" r="1.1"/></g><line x1="90.92" y1="35.3" x2="90.92" y2="245.6" stroke="rgba(230,30,60,0.42)" stroke-width="1.15"/><line x1="108.08" y1="35.3" x2="108.08" y2="245.6" stroke="rgba(230,30,60,0.42)" stroke-width="1.15"/><line x1="31.3" y1="116.72" x2="207.9" y2="116.72" stroke="rgba(230,30,60,0.42)" stroke-width="1.5"/><line x1="381.25" y1="32.5" x2="381.25" y2="248.9" stroke="rgba(230,30,60,0.42)" stroke-width="1.15"/><line x1="405.15" y1="32.5" x2="405.15" y2="248.9" stroke="rgba(230,30,60,0.42)" stroke-width="1.15"/><line x1="293.2" y1="171.88" x2="476.9" y2="171.88" stroke="rgba(230,30,60,0.42)" stroke-width="1.5"/><text x="30.2" y="237.9" font-size="4.6" fill="#555555" text-anchor="end" stroke="#555555" stroke-width="0.2">0.0</text><text x="30.2" y="192.17" font-size="4.6" fill="#555555" text-anchor="end" stroke="#555555" stroke-width="0.2">0.5</text><text x="30.2" y="146.45" font-size="4.6" fill="#555555" text-anchor="end" stroke="#555555" stroke-width="0.2">1.0</text><text x="30.2" y="100.72" font-size="4.6" fill="#555555" text-anchor="end" stroke="#555555" stroke-width="0.2">1.5</text><text x="30.2" y="55" font-size="4.6" fill="#555555" text-anchor="end" stroke="#555555" stroke-width="0.2">2.0</text><text x="65.18" y="251.3" font-size="4.6" fill="#555555" text-anchor="middle" stroke="#555555" stroke-width="0.2">-4</text><text x="99.5" y="251.3" font-size="4.6" fill="#555555" text-anchor="middle" stroke="#555555" stroke-width="0.2">0</text><text x="133.82" y="251.3" font-size="4.6" fill="#555555" text-anchor="middle" stroke="#555555" stroke-width="0.2">4</text><text x="168.14" y="251.3" font-size="4.6" fill="#555555" text-anchor="middle" stroke="#555555" stroke-width="0.2">8</text><text x="202.46" y="251.3" font-size="4.6" fill="#555555" text-anchor="middle" stroke="#555555" stroke-width="0.2">12</text><text x="290.6" y="240.1" font-size="4.6" fill="#555555" text-anchor="end" stroke="#555555" stroke-width="0.2">0</text><text x="290.6" y="189.05" font-size="4.6" fill="#555555" text-anchor="end" stroke="#555555" stroke-width="0.2">1</text><text x="290.6" y="138" font-size="4.6" fill="#555555" text-anchor="end" stroke="#555555" stroke-width="0.2">2</text><text x="290.6" y="86.95" font-size="4.6" fill="#555555" text-anchor="end" stroke="#555555" stroke-width="0.2">3</text><text x="290.6" y="35.9" font-size="4.6" fill="#555555" text-anchor="end" stroke="#555555" stroke-width="0.2">4</text><text x="297.6" y="253.8" font-size="4.6" fill="#555555" text-anchor="middle" stroke="#555555" stroke-width="0.2">-8</text><text x="345.4" y="253.8" font-size="4.6" fill="#555555" text-anchor="middle" stroke="#555555" stroke-width="0.2">-4</text><text x="393.2" y="253.8" font-size="4.6" fill="#555555" text-anchor="middle" stroke="#555555" stroke-width="0.2">0</text><text x="441" y="253.8" font-size="4.6" fill="#555555" text-anchor="middle" stroke="#555555" stroke-width="0.2">4</text><text x="112.4" y="256.4" font-size="5" fill="#111" textLength="15.2" lengthAdjust="spacingAndGlyphs">log2FC</text><text x="376.5" y="259.9" font-size="5" fill="#111" textLength="16.3" lengthAdjust="spacingAndGlyphs">log2FC</text><text transform="translate(21,141.5) rotate(-90)" font-size="5" fill="#111" text-anchor="middle" textLength="31" lengthAdjust="spacingAndGlyphs">-log10(Padj)</text><text transform="translate(285.5,139.7) rotate(-90)" font-size="5" fill="#111" text-anchor="middle" textLength="24" lengthAdjust="spacingAndGlyphs">-log10(P)</text><text x="214.8" y="129.3" font-size="4.8" fill="#111" textLength="14.6" lengthAdjust="spacingAndGlyphs" stroke="#222" stroke-width="0.15">diffexp</text><circle cx="219" cy="136.9" r="1.25" fill="#0000f0"/><text x="225.3" y="138.5" font-size="4.6" fill="#111" textLength="13.2" lengthAdjust="spacingAndGlyphs" stroke="#222" stroke-width="0.15">DOWN</text><circle cx="219" cy="144.8" r="1.25" fill="#000"/><text x="225.3" y="146.4" font-size="4.6" fill="#111" textLength="7" lengthAdjust="spacingAndGlyphs" stroke="#222" stroke-width="0.15">NO</text><circle cx="219" cy="152.7" r="1.25" fill="#f00000"/><text x="225.3" y="154.3" font-size="4.6" fill="#111" textLength="6.2" lengthAdjust="spacingAndGlyphs" stroke="#222" stroke-width="0.15">UP</text><text x="484.2" y="130" font-size="4.8" fill="#111" textLength="14.6" lengthAdjust="spacingAndGlyphs" stroke="#222" stroke-width="0.15">diffexp</text><circle cx="488.4" cy="136.4" r="1.25" fill="#0000f0"/><text x="494.7" y="138" font-size="4.6" fill="#111" textLength="13.2" lengthAdjust="spacingAndGlyphs" stroke="#222" stroke-width="0.15">DOWN</text><circle cx="488.4" cy="144.45" r="1.25" fill="#000"/><text x="494.7" y="146.05" font-size="4.6" fill="#111" textLength="7" lengthAdjust="spacingAndGlyphs" stroke="#222" stroke-width="0.15">NO</text><circle cx="488.4" cy="152.5" r="1.25" fill="#f00000"/><text x="494.7" y="154.1" font-size="4.6" fill="#111" textLength="6.2" lengthAdjust="spacingAndGlyphs" stroke="#222" stroke-width="0.15">UP</text><text x="64.3" y="42.6" font-size="5.1" fill="#2a2ad8" textLength="14.3" lengthAdjust="spacingAndGlyphs" stroke="#2a2ad8" stroke-width="0.24">IGSF5</text><text x="81.9" y="42.6" font-size="5.1" fill="#2a2ad8" textLength="16" lengthAdjust="spacingAndGlyphs" stroke="#2a2ad8" stroke-width="0.24">KCNJ9</text><text x="111" y="104.5" font-size="5.1" fill="#e02030" textLength="19.7" lengthAdjust="spacingAndGlyphs" stroke="#e02030" stroke-width="0.24">BCYRN1</text><text x="164.5" y="106.5" font-size="5.1" fill="#e02030" textLength="34.1" lengthAdjust="spacingAndGlyphs" stroke="#e02030" stroke-width="0.24">HSPE1-MOB4</text><text x="111.5" y="120.7" font-size="5.1" fill="#e02030" textLength="18.7" lengthAdjust="spacingAndGlyphs" stroke="#e02030" stroke-width="0.24">TMEM4C</text><text x="315.4" y="51.1" font-size="5.1" fill="#2a2ad8" textLength="12.9" lengthAdjust="spacingAndGlyphs" stroke="#2a2ad8" stroke-width="0.24">MYL2</text><text x="359.9" y="89.4" font-size="5.1" fill="#2a2ad8" textLength="11.7" lengthAdjust="spacingAndGlyphs" stroke="#2a2ad8" stroke-width="0.24">LGR4</text><text x="348" y="99.8" font-size="5.1" fill="#2a2ad8" textLength="10.4" lengthAdjust="spacingAndGlyphs" stroke="#2a2ad8" stroke-width="0.24">LIPK</text><text x="316.5" y="103.6" font-size="5.1" fill="#2a2ad8" textLength="28.1" lengthAdjust="spacingAndGlyphs" stroke="#2a2ad8" stroke-width="0.24">AC087190.3</text><text x="342.8" y="111.6" font-size="5.1" fill="#2a2ad8" textLength="14.2" lengthAdjust="spacingAndGlyphs" stroke="#2a2ad8" stroke-width="0.24">KRT28</text><text x="361.3" y="116.3" font-size="5.1" fill="#2a2ad8" textLength="18.5" lengthAdjust="spacingAndGlyphs" stroke="#2a2ad8" stroke-width="0.24">TFAP2B</text><text x="361.3" y="125.9" font-size="5.1" fill="#2a2ad8" textLength="20.5" lengthAdjust="spacingAndGlyphs" stroke="#2a2ad8" stroke-width="0.24">DYNC1I1</text><text x="345.8" y="132.6" font-size="5.1" fill="#2a2ad8" textLength="17" lengthAdjust="spacingAndGlyphs" stroke="#2a2ad8" stroke-width="0.24">GNA14</text><text x="444.2" y="44.4" font-size="5.1" fill="#e02030" textLength="21.7" lengthAdjust="spacingAndGlyphs" stroke="#e02030" stroke-width="0.24">DUX4L51</text><text x="438.7" y="62.3" font-size="5.1" fill="#e02030" textLength="23.1" lengthAdjust="spacingAndGlyphs" stroke="#e02030" stroke-width="0.24">UBA52P5</text><text x="405.5" y="85.6" font-size="5.1" fill="#e02030" textLength="24.2" lengthAdjust="spacingAndGlyphs" stroke="#e02030" stroke-width="0.24">SERPINB3</text><text x="433.5" y="85.6" font-size="5.1" fill="#e02030" textLength="18.2" lengthAdjust="spacingAndGlyphs" stroke="#e02030" stroke-width="0.24">S100A9</text><text x="454.8" y="90.1" font-size="5.1" fill="#e02030" textLength="19.2" lengthAdjust="spacingAndGlyphs" stroke="#e02030" stroke-width="0.24">DEFB4A</text><text x="418.7" y="92.8" font-size="5.1" fill="#e02030" textLength="12.6" lengthAdjust="spacingAndGlyphs" stroke="#e02030" stroke-width="0.24">FTH1</text><text x="445" y="96.6" font-size="5.1" fill="#e02030" textLength="23.6" lengthAdjust="spacingAndGlyphs" stroke="#e02030" stroke-width="0.24">HLA-DRA</text><text x="410.2" y="100.6" font-size="5.1" fill="#e02030" textLength="20.8" lengthAdjust="spacingAndGlyphs" stroke="#e02030" stroke-width="0.24">SPRR2G</text><text x="434.6" y="99.3" font-size="5.1" fill="#e02030" textLength="8.4" lengthAdjust="spacingAndGlyphs" stroke="#e02030" stroke-width="0.24">FTL</text><text x="459.4" y="100.8" font-size="5.1" fill="#e02030" textLength="15.8" lengthAdjust="spacingAndGlyphs" stroke="#e02030" stroke-width="0.24">H3C14</text><text x="402" y="108.1" font-size="5.1" fill="#e02030" textLength="24.9" lengthAdjust="spacingAndGlyphs" stroke="#e02030" stroke-width="0.24">DEFB103B</text><text x="430.2" y="108.1" font-size="5.1" fill="#e02030" textLength="21.8" lengthAdjust="spacingAndGlyphs" stroke="#e02030" stroke-width="0.24">SERPINB4</text><text x="448.8" y="109.1" font-size="5.1" fill="#e02030" textLength="25.2" lengthAdjust="spacingAndGlyphs" stroke="#e02030" stroke-width="0.24">AC006064.6</text><text x="415.9" y="116" font-size="5.1" fill="#e02030" textLength="15.4" lengthAdjust="spacingAndGlyphs" stroke="#e02030" stroke-width="0.24">PYDC1</text><text x="444.5" y="116.9" font-size="5.1" fill="#e02030" textLength="16.5" lengthAdjust="spacingAndGlyphs" stroke="#e02030" stroke-width="0.24">S100A7</text><text x="404.9" y="123.1" font-size="5.1" fill="#e02030" textLength="12.1" lengthAdjust="spacingAndGlyphs" stroke="#e02030" stroke-width="0.24">CNFN</text><text x="413.7" y="129.6" font-size="5.1" fill="#e02030" textLength="13.8" lengthAdjust="spacingAndGlyphs" stroke="#e02030" stroke-width="0.24">AQP9</text><text x="430.2" y="127.8" font-size="5.1" fill="#e02030" textLength="28.5" lengthAdjust="spacingAndGlyphs" stroke="#e02030" stroke-width="0.24">AC110491.1</text><text x="442.9" y="134.9" font-size="5.1" fill="#e02030" textLength="30.8" lengthAdjust="spacingAndGlyphs" stroke="#e02030" stroke-width="0.24">Metazoa_SRP</text><line x1="430.4" y1="82.6" x2="433.6" y2="88.6" stroke="#e02030" stroke-width="0.55"/><line x1="444.2" y1="100.6" x2="446.6" y2="95" stroke="#e02030" stroke-width="0.55"/><line x1="426.9" y1="106.3" x2="430" y2="106.3" stroke="#e02030" stroke-width="0.55"/><text x="44.4" y="18.4" font-size="7.5" fill="#000" font-weight="bold" textLength="108.1" lengthAdjust="spacingAndGlyphs" stroke="#000" stroke-width="0.22">Figure 1. TREATED vs. UNTREATED</text><text x="72.1" y="28.7" font-size="7.5" fill="#000" font-weight="bold" textLength="80.9" lengthAdjust="spacingAndGlyphs" stroke="#000" stroke-width="0.22">324 DEGs, FC2, adjp=0.05</text><text x="310.8" y="20" font-size="7.8" fill="#000" font-weight="bold" textLength="135.4" lengthAdjust="spacingAndGlyphs" stroke="#000" stroke-width="0.22">Figure 2. RESPONDER vs. NONRESPONDER</text><text x="357" y="30.1" font-size="7.5" fill="#000" font-weight="bold" textLength="70.7" lengthAdjust="spacingAndGlyphs" stroke="#000" stroke-width="0.22">288 DEGs, FC2, p=0.05</text><path d="M121.3,30.2 L122.2,30.7 L123.1,30 L124,30.7 L124.9,30 L125.8,30.7 L126.7,30 L127.6,30.7 L128.5,30 L129.4,30.7 L130.3,30 L131.2,30.7 L132.1,30 L133,30.7 L133.9,30 L134.8,30.7 L135.7,30" fill="none" stroke="rgba(230,40,60,0.55)" stroke-width="0.6"/><rect x="6" y="6.1" width="236.9" height="258.65" fill="none" stroke="#000" stroke-width="2"/><rect x="271.4" y="6.1" width="240.8" height="258.85" fill="none" stroke="#000" stroke-width="2"/></svg></body></html>
